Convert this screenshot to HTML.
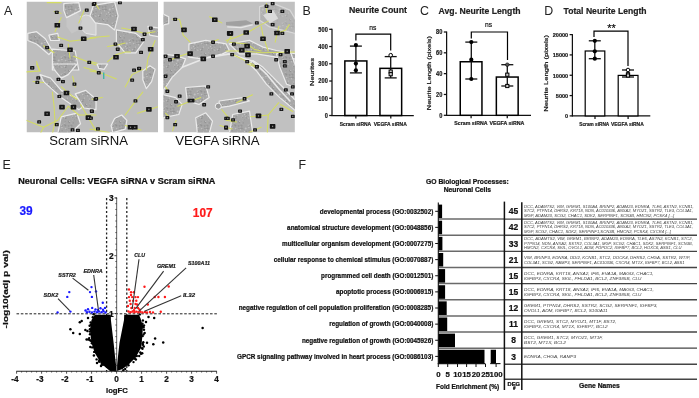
<!DOCTYPE html>
<html><head><meta charset="utf-8"><style>
html,body{margin:0;padding:0;background:#fff;}
body{width:699px;height:398px;overflow:hidden;}
svg{display:block;font-family:"Liberation Sans", sans-serif;will-change:transform;}
</style></head><body>
<svg width="699" height="398" viewBox="0 0 699 398">
<text x="4.00" y="15.00" font-size="12.4" text-anchor="start" fill="#222">A</text>
<text x="302.60" y="15.00" font-size="12.4" text-anchor="start" fill="#222">B</text>
<text x="420.00" y="14.80" font-size="12.4" text-anchor="start" fill="#222">C</text>
<text x="544.20" y="14.80" font-size="12.4" text-anchor="start" fill="#222">D</text>
<text x="2.60" y="168.80" font-size="12.4" text-anchor="start" fill="#222">E</text>
<text x="298.50" y="168.70" font-size="12.4" text-anchor="start" fill="#222">F</text>
<defs><pattern id="tex" width="17" height="17" patternUnits="userSpaceOnUse"><rect width="17" height="17" fill="#a7a7a7"/><circle cx="7.7" cy="9.5" r="1.0" fill="#c2c2c2"/><circle cx="7.7" cy="14.5" r="0.5" fill="#c2c2c2"/><circle cx="10.7" cy="13.5" r="0.5" fill="#b9b9b9"/><circle cx="2.4" cy="9.2" r="0.9" fill="#939393"/><circle cx="10.1" cy="6.7" r="0.7" fill="#9a9a9a"/><circle cx="10.6" cy="14.1" r="0.4" fill="#939393"/><circle cx="3.2" cy="4.1" r="0.4" fill="#c2c2c2"/><circle cx="5.5" cy="10.0" r="0.5" fill="#9a9a9a"/><circle cx="10.9" cy="8.5" r="0.8" fill="#c2c2c2"/><circle cx="11.1" cy="6.9" r="0.7" fill="#939393"/><circle cx="12.0" cy="5.4" r="0.5" fill="#b9b9b9"/><circle cx="0.5" cy="9.6" r="0.5" fill="#939393"/><circle cx="14.4" cy="6.6" r="1.0" fill="#939393"/><circle cx="3.6" cy="15.8" r="0.4" fill="#c2c2c2"/><circle cx="16.7" cy="6.8" r="0.4" fill="#9a9a9a"/><circle cx="13.2" cy="4.6" r="0.5" fill="#b9b9b9"/><circle cx="0.3" cy="7.0" r="1.0" fill="#9a9a9a"/><circle cx="4.2" cy="1.7" r="0.4" fill="#c2c2c2"/><circle cx="3.0" cy="9.5" r="0.7" fill="#9a9a9a"/><circle cx="16.7" cy="13.1" r="0.7" fill="#c2c2c2"/><circle cx="2.0" cy="7.2" r="0.5" fill="#b9b9b9"/><circle cx="14.7" cy="16.6" r="0.8" fill="#939393"/><circle cx="3.6" cy="6.7" r="0.9" fill="#939393"/><circle cx="0.7" cy="2.5" r="0.7" fill="#939393"/><circle cx="13.1" cy="5.6" r="0.6" fill="#939393"/><circle cx="1.3" cy="3.5" r="0.8" fill="#939393"/><circle cx="10.2" cy="6.3" r="0.7" fill="#c2c2c2"/><circle cx="14.2" cy="2.3" r="0.6" fill="#9a9a9a"/><circle cx="5.3" cy="3.9" r="0.8" fill="#9a9a9a"/><circle cx="2.7" cy="10.7" r="0.7" fill="#c2c2c2"/><circle cx="15.0" cy="10.3" r="0.7" fill="#939393"/><circle cx="1.9" cy="8.7" r="0.6" fill="#c2c2c2"/><circle cx="4.4" cy="14.0" r="0.8" fill="#b9b9b9"/><circle cx="8.8" cy="15.8" r="1.0" fill="#9a9a9a"/><circle cx="3.9" cy="9.5" r="0.9" fill="#939393"/><circle cx="4.8" cy="15.6" r="0.5" fill="#939393"/><circle cx="1.2" cy="7.0" r="0.5" fill="#939393"/><circle cx="3.0" cy="6.3" r="0.7" fill="#9a9a9a"/><circle cx="1.6" cy="2.4" r="0.7" fill="#b9b9b9"/><circle cx="11.2" cy="11.8" r="0.8" fill="#9a9a9a"/><circle cx="10.0" cy="15.7" r="0.7" fill="#b9b9b9"/><circle cx="11.9" cy="16.4" r="0.4" fill="#939393"/><circle cx="8.2" cy="12.4" r="0.6" fill="#939393"/><circle cx="1.3" cy="9.3" r="0.8" fill="#9a9a9a"/><circle cx="13.5" cy="15.6" r="0.6" fill="#c2c2c2"/><circle cx="15.3" cy="14.8" r="0.7" fill="#939393"/><circle cx="14.7" cy="9.7" r="0.8" fill="#c2c2c2"/><circle cx="6.4" cy="0.2" r="0.4" fill="#939393"/><circle cx="10.9" cy="16.9" r="0.9" fill="#b9b9b9"/><circle cx="6.6" cy="12.5" r="0.7" fill="#c2c2c2"/></pattern></defs>
<clipPath id="c1"><rect x="26.5" y="1.5" width="131.5" height="131"/></clipPath>
<clipPath id="c2"><rect x="163.4" y="1.5" width="131.5" height="131"/></clipPath>
<g clip-path="url(#c1)">
<rect x="26.5" y="1.5" width="131.5" height="131" fill="#bebebe"/>
<polygon points="78.8,17.6 85.8,14.9 96.0,17.6 96.0,35.2 85.8,33.4 78.8,26.4" fill="#cfcfcf" stroke="#e6e6e6" stroke-width="1.0" opacity="1" stroke-linejoin="round"/>
<polygon points="66.5,14.1 77.0,12.3 82.3,21.1 78.8,29.9 71.7,33.4 66.5,26.4" fill="#c6c6c6" stroke="none" stroke-width="0" opacity="1" stroke-linejoin="round"/>
<polygon points="63.8,3.5 78.8,2.6 80.5,10.6 73.5,14.1 66.5,17.6 63.8,10.6" fill="url(#tex)" stroke="#ebebeb" stroke-width="1.2" opacity="1" stroke-linejoin="round"/>
<polygon points="27.8,33.4 36.6,31.7 45.3,38.7 52.4,51.0 48.9,54.5 36.6,44.0 27.8,40.5" fill="url(#tex)" stroke="#ebebeb" stroke-width="1.2" opacity="1" stroke-linejoin="round"/>
<polygon points="52.4,49.2 75.2,51.0 78.8,70.0 52.4,70.0" fill="url(#tex)" stroke="#ebebeb" stroke-width="1.2" opacity="1" stroke-linejoin="round"/>
<polygon points="48.9,35.2 57.7,33.4 59.4,40.5 50.6,40.5" fill="url(#tex)" stroke="#ebebeb" stroke-width="1.2" opacity="1" stroke-linejoin="round"/>
<polygon points="93.5,5.3 114.6,1.8 118.1,15.8 114.6,29.9 107.6,24.6 95.3,22.9 90.0,15.8" fill="url(#tex)" stroke="#ebebeb" stroke-width="1.2" opacity="1" stroke-linejoin="round"/>
<polygon points="116.4,29.9 135.7,33.4 144.5,40.5 135.7,52.8 125.2,52.8 116.4,42.2" fill="url(#tex)" stroke="#ebebeb" stroke-width="1.2" opacity="1" stroke-linejoin="round"/>
<polygon points="148.0,26.4 160.0,28.1 160.0,36.9 149.8,35.2" fill="url(#tex)" stroke="#ebebeb" stroke-width="1.2" opacity="1" stroke-linejoin="round"/>
<polygon points="52.4,64.0 77.0,64.0 68.2,74.6 61.2,78.1 54.1,69.3" fill="url(#tex)" stroke="#ebebeb" stroke-width="1.2" opacity="1" stroke-linejoin="round"/>
<polygon points="40.1,74.6 50.6,78.1 61.2,90.4 78.8,99.2 85.8,104.5 78.8,109.7 61.2,97.4 43.6,81.6" fill="url(#tex)" stroke="#ebebeb" stroke-width="1.2" opacity="1" stroke-linejoin="round"/>
<polygon points="61.2,116.8 77.0,113.2 80.5,123.8 70.0,134.0 57.7,134.0" fill="url(#tex)" stroke="#ebebeb" stroke-width="1.2" opacity="1" stroke-linejoin="round"/>
<polygon points="75.2,93.9 85.8,90.4 96.0,99.2 96.0,109.7 84.0,108.0" fill="url(#tex)" stroke="#ebebeb" stroke-width="1.2" opacity="1" stroke-linejoin="round"/>
<polygon points="97.0,64.0 107.6,64.0 104.1,69.3 98.8,68.4" fill="url(#tex)" stroke="#ebebeb" stroke-width="1.2" opacity="1" stroke-linejoin="round"/>
<polygon points="142.8,71.0 149.8,65.8 155.1,69.3 151.6,81.6 146.3,88.6 142.8,79.8" fill="url(#tex)" stroke="#ebebeb" stroke-width="1.2" opacity="1" stroke-linejoin="round"/>
<polygon points="114.6,118.5 121.7,115.0 126.9,120.3 125.2,129.1 112.9,132.6 111.1,125.6" fill="url(#tex)" stroke="#ebebeb" stroke-width="1.2" opacity="1" stroke-linejoin="round"/>
<polyline points="47.1,2.6 61.2,2.6" fill="none" stroke="#d4dc62" stroke-width="1.05" stroke-linejoin="round" stroke-linecap="round"/>
<polyline points="54.1,11.4 61.2,13.2" fill="none" stroke="#d4dc62" stroke-width="1.05" stroke-linejoin="round" stroke-linecap="round"/>
<polyline points="61.2,17.6 55.0,31.7" fill="none" stroke="#d4dc62" stroke-width="1.05" stroke-linejoin="round" stroke-linecap="round"/>
<polyline points="57.7,36.9 70.0,41.3 84.0,39.6 96.0,37.8" fill="none" stroke="#d4dc62" stroke-width="1.05" stroke-linejoin="round" stroke-linecap="round"/>
<polyline points="68.2,44.0 70.0,58.0" fill="none" stroke="#d4dc62" stroke-width="1.05" stroke-linejoin="round" stroke-linecap="round"/>
<polyline points="78.8,22.9 84.0,10.6" fill="none" stroke="#d4dc62" stroke-width="1.05" stroke-linejoin="round" stroke-linecap="round"/>
<polyline points="43.6,45.7 54.1,52.8" fill="none" stroke="#d4dc62" stroke-width="1.05" stroke-linejoin="round" stroke-linecap="round"/>
<polyline points="36.6,61.6 39.2,70.0" fill="none" stroke="#d4dc62" stroke-width="1.05" stroke-linejoin="round" stroke-linecap="round"/>
<polyline points="73.5,56.3 96.0,65.1" fill="none" stroke="#d4dc62" stroke-width="1.05" stroke-linejoin="round" stroke-linecap="round"/>
<polyline points="90.0,37.8 109.3,36.1" fill="none" stroke="#d4dc62" stroke-width="1.05" stroke-linejoin="round" stroke-linecap="round"/>
<polyline points="121.7,28.1 132.2,29.9 144.5,33.4 155.1,31.7" fill="none" stroke="#d4dc62" stroke-width="1.05" stroke-linejoin="round" stroke-linecap="round"/>
<polyline points="107.6,46.6 118.1,44.8 125.2,43.1" fill="none" stroke="#d4dc62" stroke-width="1.05" stroke-linejoin="round" stroke-linecap="round"/>
<polyline points="116.4,54.5 125.2,51.9 130.5,51.9" fill="none" stroke="#d4dc62" stroke-width="1.05" stroke-linejoin="round" stroke-linecap="round"/>
<polyline points="107.6,61.6 116.4,54.5" fill="none" stroke="#d4dc62" stroke-width="1.05" stroke-linejoin="round" stroke-linecap="round"/>
<polyline points="155.1,40.5 148.0,58.0 146.3,70.0" fill="none" stroke="#d4dc62" stroke-width="1.05" stroke-linejoin="round" stroke-linecap="round"/>
<polyline points="90.0,61.6 97.0,63.3" fill="none" stroke="#d4dc62" stroke-width="1.05" stroke-linejoin="round" stroke-linecap="round"/>
<polyline points="95.3,3.5 98.8,8.8" fill="none" stroke="#d4dc62" stroke-width="1.05" stroke-linejoin="round" stroke-linecap="round"/>
<polyline points="26.0,71.9 40.1,71.0" fill="none" stroke="#d4dc62" stroke-width="1.05" stroke-linejoin="round" stroke-linecap="round"/>
<polyline points="36.6,64.0 40.1,71.0" fill="none" stroke="#d4dc62" stroke-width="1.05" stroke-linejoin="round" stroke-linecap="round"/>
<polyline points="33.0,81.6 43.6,82.5" fill="none" stroke="#d4dc62" stroke-width="1.05" stroke-linejoin="round" stroke-linecap="round"/>
<polyline points="52.4,92.1 54.1,106.2 55.0,122.0 52.4,134.0" fill="none" stroke="#d4dc62" stroke-width="1.05" stroke-linejoin="round" stroke-linecap="round"/>
<polyline points="26.0,120.3 43.6,127.3 57.7,120.3 68.2,106.2" fill="none" stroke="#d4dc62" stroke-width="1.05" stroke-linejoin="round" stroke-linecap="round"/>
<polyline points="43.6,127.3 40.1,134.0" fill="none" stroke="#d4dc62" stroke-width="1.05" stroke-linejoin="round" stroke-linecap="round"/>
<polyline points="61.2,86.9 71.7,95.7 77.0,99.2" fill="none" stroke="#d4dc62" stroke-width="1.05" stroke-linejoin="round" stroke-linecap="round"/>
<polyline points="68.2,106.2 78.8,115.0 96.0,115.0" fill="none" stroke="#d4dc62" stroke-width="1.05" stroke-linejoin="round" stroke-linecap="round"/>
<polyline points="80.5,104.5 96.0,130.8" fill="none" stroke="#d4dc62" stroke-width="1.05" stroke-linejoin="round" stroke-linecap="round"/>
<polyline points="72.6,76.3 75.2,86.9" fill="none" stroke="#d4dc62" stroke-width="1.05" stroke-linejoin="round" stroke-linecap="round"/>
<polyline points="84.0,67.5 96.0,71.0" fill="none" stroke="#d4dc62" stroke-width="1.05" stroke-linejoin="round" stroke-linecap="round"/>
<polyline points="90.0,71.0 100.6,72.8 116.4,78.9" fill="none" stroke="#d4dc62" stroke-width="1.05" stroke-linejoin="round" stroke-linecap="round"/>
<polyline points="125.2,86.9 132.2,74.6 142.8,69.3" fill="none" stroke="#d4dc62" stroke-width="1.05" stroke-linejoin="round" stroke-linecap="round"/>
<polyline points="142.8,92.1 135.7,100.9 125.2,115.0" fill="none" stroke="#d4dc62" stroke-width="1.05" stroke-linejoin="round" stroke-linecap="round"/>
<polyline points="137.5,113.2 160.0,106.2" fill="none" stroke="#d4dc62" stroke-width="1.05" stroke-linejoin="round" stroke-linecap="round"/>
<polyline points="91.8,99.2 102.3,97.4" fill="none" stroke="#d4dc62" stroke-width="1.05" stroke-linejoin="round" stroke-linecap="round"/>
<polyline points="125.2,125.6 141.0,130.0" fill="none" stroke="#d4dc62" stroke-width="1.05" stroke-linejoin="round" stroke-linecap="round"/>
<polyline points="90.0,129.1 109.3,132.6" fill="none" stroke="#d4dc62" stroke-width="1.05" stroke-linejoin="round" stroke-linecap="round"/>
<rect x="54.8" y="10.7" width="3.9" height="3.3" rx="0.6" fill="#151515"/>
<rect x="56.2" y="11.6" width="1.2" height="1.4" fill="#888"/>
<rect x="54.5" y="22.9" width="5.6" height="4.6" rx="0.6" fill="#151515"/>
<rect x="56.7" y="24.5" width="1.2" height="1.4" fill="#888"/>
<rect x="78.5" y="26.5" width="3.9" height="3.3" rx="0.6" fill="#151515"/>
<rect x="79.9" y="27.4" width="1.2" height="1.4" fill="#888"/>
<rect x="80.9" y="36.4" width="5.6" height="4.6" rx="0.6" fill="#151515"/>
<rect x="83.1" y="38.0" width="1.2" height="1.4" fill="#888"/>
<rect x="59.2" y="43.8" width="3.9" height="3.3" rx="0.6" fill="#151515"/>
<rect x="60.6" y="44.7" width="1.2" height="1.4" fill="#888"/>
<rect x="67.2" y="47.5" width="5.6" height="4.6" rx="0.6" fill="#151515"/>
<rect x="69.4" y="49.1" width="1.2" height="1.4" fill="#888"/>
<rect x="45.1" y="45.9" width="3.9" height="3.3" rx="0.6" fill="#151515"/>
<rect x="46.5" y="46.8" width="1.2" height="1.4" fill="#888"/>
<rect x="84.8" y="8.5" width="3.9" height="3.3" rx="0.6" fill="#151515"/>
<rect x="86.1" y="9.5" width="1.2" height="1.4" fill="#888"/>
<rect x="91.8" y="2.8" width="3.9" height="3.3" rx="0.6" fill="#151515"/>
<rect x="93.1" y="3.7" width="1.2" height="1.4" fill="#888"/>
<rect x="87.3" y="60.8" width="3.9" height="3.3" rx="0.6" fill="#151515"/>
<rect x="88.7" y="61.7" width="1.2" height="1.4" fill="#888"/>
<rect x="30.3" y="66.0" width="3.9" height="3.3" rx="0.6" fill="#151515"/>
<rect x="31.6" y="67.0" width="1.2" height="1.4" fill="#888"/>
<rect x="131.2" y="26.7" width="5.6" height="4.6" rx="0.6" fill="#151515"/>
<rect x="133.4" y="28.3" width="1.2" height="1.4" fill="#888"/>
<rect x="148.8" y="26.5" width="3.9" height="3.3" rx="0.6" fill="#151515"/>
<rect x="150.1" y="27.4" width="1.2" height="1.4" fill="#888"/>
<rect x="142.6" y="32.6" width="3.9" height="3.3" rx="0.6" fill="#151515"/>
<rect x="143.9" y="33.6" width="1.2" height="1.4" fill="#888"/>
<rect x="140.9" y="38.0" width="3.9" height="3.3" rx="0.6" fill="#151515"/>
<rect x="142.2" y="38.9" width="1.2" height="1.4" fill="#888"/>
<rect x="113.5" y="42.4" width="3.9" height="3.3" rx="0.6" fill="#151515"/>
<rect x="114.9" y="43.3" width="1.2" height="1.4" fill="#888"/>
<rect x="115.8" y="47.6" width="3.9" height="3.3" rx="0.6" fill="#151515"/>
<rect x="117.2" y="48.5" width="1.2" height="1.4" fill="#888"/>
<rect x="113.2" y="54.9" width="5.6" height="4.6" rx="0.6" fill="#151515"/>
<rect x="115.4" y="56.5" width="1.2" height="1.4" fill="#888"/>
<rect x="139.1" y="50.8" width="3.9" height="3.3" rx="0.6" fill="#151515"/>
<rect x="140.4" y="51.7" width="1.2" height="1.4" fill="#888"/>
<rect x="147.9" y="46.9" width="5.6" height="4.6" rx="0.6" fill="#151515"/>
<rect x="150.1" y="48.5" width="1.2" height="1.4" fill="#888"/>
<rect x="92.5" y="1.9" width="3.9" height="3.3" rx="0.6" fill="#151515"/>
<rect x="93.8" y="2.8" width="1.2" height="1.4" fill="#888"/>
<rect x="118.0" y="1.0" width="3.9" height="3.3" rx="0.6" fill="#151515"/>
<rect x="119.4" y="1.9" width="1.2" height="1.4" fill="#888"/>
<rect x="137.2" y="66.9" width="3.9" height="3.3" rx="0.6" fill="#151515"/>
<rect x="138.6" y="67.9" width="1.2" height="1.4" fill="#888"/>
<rect x="30.3" y="66.2" width="3.9" height="3.3" rx="0.6" fill="#151515"/>
<rect x="31.6" y="67.2" width="1.2" height="1.4" fill="#888"/>
<rect x="36.3" y="76.3" width="3.9" height="3.3" rx="0.6" fill="#151515"/>
<rect x="37.7" y="77.3" width="1.2" height="1.4" fill="#888"/>
<rect x="35.4" y="80.8" width="3.9" height="3.3" rx="0.6" fill="#151515"/>
<rect x="36.8" y="81.8" width="1.2" height="1.4" fill="#888"/>
<rect x="56.5" y="77.8" width="3.9" height="3.3" rx="0.6" fill="#151515"/>
<rect x="57.9" y="78.8" width="1.2" height="1.4" fill="#888"/>
<rect x="61.0" y="79.9" width="3.9" height="3.3" rx="0.6" fill="#151515"/>
<rect x="62.4" y="80.9" width="1.2" height="1.4" fill="#888"/>
<rect x="72.5" y="82.5" width="3.9" height="3.3" rx="0.6" fill="#151515"/>
<rect x="73.8" y="83.5" width="1.2" height="1.4" fill="#888"/>
<rect x="63.7" y="90.7" width="5.6" height="4.6" rx="0.6" fill="#151515"/>
<rect x="65.9" y="92.3" width="1.2" height="1.4" fill="#888"/>
<rect x="57.4" y="94.8" width="3.9" height="3.3" rx="0.6" fill="#151515"/>
<rect x="58.8" y="95.8" width="1.2" height="1.4" fill="#888"/>
<rect x="59.2" y="104.8" width="5.6" height="4.6" rx="0.6" fill="#151515"/>
<rect x="61.4" y="106.4" width="1.2" height="1.4" fill="#888"/>
<rect x="70.7" y="104.8" width="5.6" height="4.6" rx="0.6" fill="#151515"/>
<rect x="72.9" y="106.4" width="1.2" height="1.4" fill="#888"/>
<rect x="44.3" y="111.5" width="5.6" height="4.6" rx="0.6" fill="#151515"/>
<rect x="46.5" y="113.1" width="1.2" height="1.4" fill="#888"/>
<rect x="37.2" y="120.3" width="3.9" height="3.3" rx="0.6" fill="#151515"/>
<rect x="38.6" y="121.3" width="1.2" height="1.4" fill="#888"/>
<rect x="54.8" y="123.0" width="3.9" height="3.3" rx="0.6" fill="#151515"/>
<rect x="56.2" y="124.0" width="1.2" height="1.4" fill="#888"/>
<rect x="85.6" y="115.3" width="5.6" height="4.6" rx="0.6" fill="#151515"/>
<rect x="87.8" y="116.9" width="1.2" height="1.4" fill="#888"/>
<rect x="90.0" y="109.8" width="3.9" height="3.3" rx="0.6" fill="#151515"/>
<rect x="91.4" y="110.8" width="1.2" height="1.4" fill="#888"/>
<rect x="93.5" y="97.5" width="3.9" height="3.3" rx="0.6" fill="#151515"/>
<rect x="94.9" y="98.5" width="1.2" height="1.4" fill="#888"/>
<rect x="70.6" y="128.3" width="3.9" height="3.3" rx="0.6" fill="#151515"/>
<rect x="72.0" y="129.3" width="1.2" height="1.4" fill="#888"/>
<rect x="76.0" y="128.8" width="3.9" height="3.3" rx="0.6" fill="#151515"/>
<rect x="77.3" y="129.8" width="1.2" height="1.4" fill="#888"/>
<rect x="96.8" y="71.1" width="3.9" height="3.3" rx="0.6" fill="#151515"/>
<rect x="98.2" y="72.1" width="1.2" height="1.4" fill="#888"/>
<rect x="132.1" y="68.5" width="3.9" height="3.3" rx="0.6" fill="#151515"/>
<rect x="133.4" y="69.5" width="1.2" height="1.4" fill="#888"/>
<rect x="137.2" y="66.8" width="3.9" height="3.3" rx="0.6" fill="#151515"/>
<rect x="138.6" y="67.7" width="1.2" height="1.4" fill="#888"/>
<rect x="130.2" y="78.5" width="3.9" height="3.3" rx="0.6" fill="#151515"/>
<rect x="131.6" y="79.5" width="1.2" height="1.4" fill="#888"/>
<rect x="94.2" y="97.1" width="3.9" height="3.3" rx="0.6" fill="#151515"/>
<rect x="95.6" y="98.1" width="1.2" height="1.4" fill="#888"/>
<rect x="133.5" y="99.3" width="3.9" height="3.3" rx="0.6" fill="#151515"/>
<rect x="134.8" y="100.3" width="1.2" height="1.4" fill="#888"/>
<rect x="146.1" y="107.1" width="5.6" height="4.6" rx="0.6" fill="#151515"/>
<rect x="148.3" y="108.7" width="1.2" height="1.4" fill="#888"/>
<rect x="89.8" y="109.4" width="3.9" height="3.3" rx="0.6" fill="#151515"/>
<rect x="91.2" y="110.4" width="1.2" height="1.4" fill="#888"/>
<rect x="96.0" y="127.3" width="3.9" height="3.3" rx="0.6" fill="#151515"/>
<rect x="97.3" y="128.3" width="1.2" height="1.4" fill="#888"/>
<rect x="127.7" y="125.0" width="5.6" height="4.6" rx="0.6" fill="#151515"/>
<rect x="129.9" y="126.6" width="1.2" height="1.4" fill="#888"/>
<rect x="132.0" y="125.0" width="5.6" height="4.6" rx="0.6" fill="#151515"/>
<rect x="134.2" y="126.6" width="1.2" height="1.4" fill="#888"/>
<rect x="89.0" y="116.5" width="3.9" height="3.3" rx="0.6" fill="#151515"/>
<rect x="90.3" y="117.5" width="1.2" height="1.4" fill="#888"/>
<rect x="103" y="72.5" width="1.4" height="6.5" fill="#3fb5a5"/>
</g>
<g clip-path="url(#c2)">
<rect x="163.4" y="1.5" width="131.5" height="131" fill="#c1c1c1"/>
<polygon points="188.9,43.8 205.8,40.4 226.0,43.8 229.3,50.5 222.6,53.9 202.4,58.9 188.9,57.2" fill="url(#tex)" stroke="#ebebeb" stroke-width="1.2" opacity="1" stroke-linejoin="round"/>
<polygon points="162.0,53.9 175.5,55.6 185.6,58.9 182.2,67.3 172.1,77.4 165.4,87.5 162.0,90.9" fill="url(#tex)" stroke="#ebebeb" stroke-width="1.2" opacity="1" stroke-linejoin="round"/>
<polygon points="162.0,94.3 175.5,97.6 182.2,104.4 178.8,114.5 162.0,117.8" fill="url(#tex)" stroke="#ebebeb" stroke-width="1.2" opacity="1" stroke-linejoin="round"/>
<polygon points="185.6,87.5 205.8,85.9 209.1,97.6 199.0,104.4 187.3,101.0" fill="url(#tex)" stroke="#ebebeb" stroke-width="1.2" opacity="1" stroke-linejoin="round"/>
<polygon points="219.2,101.0 242.8,97.6 249.5,101.0 229.3,106.1 219.2,107.7" fill="url(#tex)" stroke="#ebebeb" stroke-width="1.2" opacity="1" stroke-linejoin="round"/>
<polygon points="195.7,117.8 205.8,112.8 212.5,121.2 209.1,134.0 197.4,134.0" fill="url(#tex)" stroke="#ebebeb" stroke-width="1.2" opacity="1" stroke-linejoin="round"/>
<polygon points="232.7,114.5 249.5,111.1 252.9,134.0 229.3,134.0" fill="url(#tex)" stroke="#ebebeb" stroke-width="1.2" opacity="1" stroke-linejoin="round"/>
<polygon points="229.3,43.8 249.5,40.4 263.0,47.1 276.5,50.5 296.0,53.9 296.0,58.9 276.5,57.2 256.3,53.9 239.4,53.9" fill="url(#tex)" stroke="#ebebeb" stroke-width="1.2" opacity="1" stroke-linejoin="round"/>
<polygon points="252.9,60.6 263.0,67.3 273.1,77.4 283.2,87.5 296.0,101.0 296.0,111.1 279.8,97.6 266.4,84.2 256.3,70.7 249.5,64.0" fill="url(#tex)" stroke="#ebebeb" stroke-width="1.2" opacity="1" stroke-linejoin="round"/>
<polygon points="276.5,53.9 289.9,50.5 296.0,67.3 296.0,87.5 286.6,84.2 279.8,67.3" fill="url(#tex)" stroke="#ebebeb" stroke-width="1.2" opacity="1" stroke-linejoin="round"/>
<polygon points="162.0,13.5 168.7,16.8 168.7,23.6 162.0,25.3" fill="url(#tex)" stroke="#ebebeb" stroke-width="1.2" opacity="1" stroke-linejoin="round"/>
<polygon points="226.0,21.9 246.2,20.2 252.9,23.6 239.4,26.3 226.0,25.3" fill="#a0a0a0" stroke="none" stroke-width="0" opacity="1" stroke-linejoin="round"/>
<polyline points="227.7,26.9 241.1,27.6 252.2,24.9" fill="none" stroke="#e6e6e6" stroke-width="1.4" stroke-linejoin="round" stroke-linecap="round"/>
<polygon points="259.6,6.7 273.1,3.4 289.9,10.1 296.0,20.2 296.0,33.7 283.2,30.3 269.7,26.9 259.6,20.2" fill="url(#tex)" stroke="#ebebeb" stroke-width="1.2" opacity="0.55" stroke-linejoin="round"/>
<polygon points="263.0,15.2 273.1,10.1 278.2,18.5 269.7,23.6" fill="#dadada" stroke="none" stroke-width="0" opacity="1" stroke-linejoin="round"/>
<polyline points="182.2,67.3 205.8,57.9 229.3,53.9 252.9,61.3 267.1,74.7 278.2,88.2 289.9,101.0" fill="none" stroke="#e8e8e8" stroke-width="1.6" stroke-linejoin="round" stroke-linecap="round"/>
<polyline points="172.6,19.3 179.6,19.3 182.2,29.9 183.1,35.2 190.1,42.2" fill="none" stroke="#d4dc62" stroke-width="1.05" stroke-linejoin="round" stroke-linecap="round"/>
<polyline points="209.5,16.7 214.8,19.3 221.8,22.9" fill="none" stroke="#d4dc62" stroke-width="1.05" stroke-linejoin="round" stroke-linecap="round"/>
<polyline points="190.1,52.8 179.6,56.3 170.8,59.8" fill="none" stroke="#d4dc62" stroke-width="1.05" stroke-linejoin="round" stroke-linecap="round"/>
<polyline points="211.2,42.2 218.3,39.6" fill="none" stroke="#d4dc62" stroke-width="1.05" stroke-linejoin="round" stroke-linecap="round"/>
<polyline points="227.1,42.2 232.0,35.2" fill="none" stroke="#d4dc62" stroke-width="1.05" stroke-linejoin="round" stroke-linecap="round"/>
<polyline points="226.0,40.5 236.6,36.9 248.9,31.7 261.2,24.6 268.2,21.1" fill="none" stroke="#d4dc62" stroke-width="1.05" stroke-linejoin="round" stroke-linecap="round"/>
<polyline points="261.2,26.4 262.9,35.2 268.2,51.0" fill="none" stroke="#d4dc62" stroke-width="1.05" stroke-linejoin="round" stroke-linecap="round"/>
<polyline points="278.8,26.4 275.2,42.2" fill="none" stroke="#d4dc62" stroke-width="1.05" stroke-linejoin="round" stroke-linecap="round"/>
<polyline points="277.0,33.4 285.8,29.9 289.3,24.6" fill="none" stroke="#d4dc62" stroke-width="1.05" stroke-linejoin="round" stroke-linecap="round"/>
<polyline points="226.0,51.0 243.6,51.0 261.2,52.8 296.0,51.9" fill="none" stroke="#d4dc62" stroke-width="1.05" stroke-linejoin="round" stroke-linecap="round"/>
<polyline points="233.0,54.5 247.1,61.6 257.7,66.8" fill="none" stroke="#d4dc62" stroke-width="1.05" stroke-linejoin="round" stroke-linecap="round"/>
<polyline points="229.5,42.2 247.1,44.0 254.1,49.2 261.2,51.0" fill="none" stroke="#d4dc62" stroke-width="1.05" stroke-linejoin="round" stroke-linecap="round"/>
<polyline points="266.5,3.5 266.5,12.3" fill="none" stroke="#d4dc62" stroke-width="1.05" stroke-linejoin="round" stroke-linecap="round"/>
<polyline points="177.8,106.2 186.6,102.7 200.7,97.4" fill="none" stroke="#d4dc62" stroke-width="1.05" stroke-linejoin="round" stroke-linecap="round"/>
<polyline points="165.5,86.9 169.0,92.1" fill="none" stroke="#d4dc62" stroke-width="1.05" stroke-linejoin="round" stroke-linecap="round"/>
<polyline points="172.6,130.8 176.1,120.3" fill="none" stroke="#d4dc62" stroke-width="1.05" stroke-linejoin="round" stroke-linecap="round"/>
<polyline points="221.8,109.7 232.0,122.0" fill="none" stroke="#d4dc62" stroke-width="1.05" stroke-linejoin="round" stroke-linecap="round"/>
<polyline points="220.0,125.6 232.0,129.1" fill="none" stroke="#d4dc62" stroke-width="1.05" stroke-linejoin="round" stroke-linecap="round"/>
<polyline points="165.5,113.2 169.0,116.8" fill="none" stroke="#d4dc62" stroke-width="1.05" stroke-linejoin="round" stroke-linecap="round"/>
<polyline points="236.6,102.7 252.4,94.8" fill="none" stroke="#d4dc62" stroke-width="1.05" stroke-linejoin="round" stroke-linecap="round"/>
<polyline points="250.6,116.8 268.2,115.0 278.8,102.7" fill="none" stroke="#d4dc62" stroke-width="1.05" stroke-linejoin="round" stroke-linecap="round"/>
<polyline points="268.2,115.0 267.3,132.6" fill="none" stroke="#d4dc62" stroke-width="1.05" stroke-linejoin="round" stroke-linecap="round"/>
<polyline points="247.1,64.0 257.7,67.5" fill="none" stroke="#d4dc62" stroke-width="1.05" stroke-linejoin="round" stroke-linecap="round"/>
<polyline points="248.9,132.6 261.2,127.3" fill="none" stroke="#d4dc62" stroke-width="1.05" stroke-linejoin="round" stroke-linecap="round"/>
<polyline points="226.0,120.3 236.6,122.0" fill="none" stroke="#d4dc62" stroke-width="1.05" stroke-linejoin="round" stroke-linecap="round"/>
<polyline points="280.5,104.5 292.8,111.5" fill="none" stroke="#d4dc62" stroke-width="1.05" stroke-linejoin="round" stroke-linecap="round"/>
<rect x="173.2" y="17.7" width="3.9" height="3.3" rx="0.6" fill="#151515"/>
<rect x="174.6" y="18.6" width="1.2" height="1.4" fill="#888"/>
<rect x="181.2" y="27.6" width="5.6" height="4.6" rx="0.6" fill="#151515"/>
<rect x="183.4" y="29.2" width="1.2" height="1.4" fill="#888"/>
<rect x="212.0" y="17.4" width="5.6" height="4.6" rx="0.6" fill="#151515"/>
<rect x="214.2" y="19.0" width="1.2" height="1.4" fill="#888"/>
<rect x="226.9" y="31.1" width="5.6" height="4.6" rx="0.6" fill="#151515"/>
<rect x="229.1" y="32.7" width="1.2" height="1.4" fill="#888"/>
<rect x="211.1" y="40.6" width="3.9" height="3.3" rx="0.6" fill="#151515"/>
<rect x="212.4" y="41.5" width="1.2" height="1.4" fill="#888"/>
<rect x="187.3" y="51.3" width="5.6" height="4.6" rx="0.6" fill="#151515"/>
<rect x="189.5" y="52.9" width="1.2" height="1.4" fill="#888"/>
<rect x="174.2" y="54.0" width="5.6" height="4.6" rx="0.6" fill="#151515"/>
<rect x="176.4" y="55.6" width="1.2" height="1.4" fill="#888"/>
<rect x="163.6" y="54.6" width="3.9" height="3.3" rx="0.6" fill="#151515"/>
<rect x="164.9" y="55.6" width="1.2" height="1.4" fill="#888"/>
<rect x="168.0" y="58.1" width="3.9" height="3.3" rx="0.6" fill="#151515"/>
<rect x="169.3" y="59.1" width="1.2" height="1.4" fill="#888"/>
<rect x="200.5" y="56.6" width="5.6" height="4.6" rx="0.6" fill="#151515"/>
<rect x="202.7" y="58.2" width="1.2" height="1.4" fill="#888"/>
<rect x="211.1" y="54.6" width="3.9" height="3.3" rx="0.6" fill="#151515"/>
<rect x="212.4" y="55.6" width="1.2" height="1.4" fill="#888"/>
<rect x="227.6" y="31.1" width="5.6" height="4.6" rx="0.6" fill="#151515"/>
<rect x="229.8" y="32.7" width="1.2" height="1.4" fill="#888"/>
<rect x="243.4" y="30.2" width="5.6" height="4.6" rx="0.6" fill="#151515"/>
<rect x="245.6" y="31.8" width="1.2" height="1.4" fill="#888"/>
<rect x="260.2" y="36.4" width="5.6" height="4.6" rx="0.6" fill="#151515"/>
<rect x="262.4" y="38.0" width="1.2" height="1.4" fill="#888"/>
<rect x="274.2" y="30.7" width="5.6" height="4.6" rx="0.6" fill="#151515"/>
<rect x="276.4" y="32.3" width="1.2" height="1.4" fill="#888"/>
<rect x="280.4" y="31.8" width="3.9" height="3.3" rx="0.6" fill="#151515"/>
<rect x="281.7" y="32.7" width="1.2" height="1.4" fill="#888"/>
<rect x="254.9" y="21.2" width="3.9" height="3.3" rx="0.6" fill="#151515"/>
<rect x="256.2" y="22.2" width="1.2" height="1.4" fill="#888"/>
<rect x="270.7" y="23.0" width="3.9" height="3.3" rx="0.6" fill="#151515"/>
<rect x="272.0" y="23.9" width="1.2" height="1.4" fill="#888"/>
<rect x="264.6" y="4.6" width="3.9" height="3.3" rx="0.6" fill="#151515"/>
<rect x="265.9" y="5.5" width="1.2" height="1.4" fill="#888"/>
<rect x="270.7" y="1.9" width="3.9" height="3.3" rx="0.6" fill="#151515"/>
<rect x="272.0" y="2.8" width="1.2" height="1.4" fill="#888"/>
<rect x="268.1" y="9.8" width="3.9" height="3.3" rx="0.6" fill="#151515"/>
<rect x="269.4" y="10.7" width="1.2" height="1.4" fill="#888"/>
<rect x="280.4" y="9.8" width="3.9" height="3.3" rx="0.6" fill="#151515"/>
<rect x="281.7" y="10.7" width="1.2" height="1.4" fill="#888"/>
<rect x="232.0" y="42.4" width="3.9" height="3.3" rx="0.6" fill="#151515"/>
<rect x="233.3" y="43.3" width="1.2" height="1.4" fill="#888"/>
<rect x="244.3" y="43.8" width="5.6" height="4.6" rx="0.6" fill="#151515"/>
<rect x="246.5" y="45.4" width="1.2" height="1.4" fill="#888"/>
<rect x="239.0" y="47.8" width="5.6" height="4.6" rx="0.6" fill="#151515"/>
<rect x="241.2" y="49.4" width="1.2" height="1.4" fill="#888"/>
<rect x="245.2" y="52.6" width="5.6" height="4.6" rx="0.6" fill="#151515"/>
<rect x="247.4" y="54.2" width="1.2" height="1.4" fill="#888"/>
<rect x="230.2" y="52.9" width="3.9" height="3.3" rx="0.6" fill="#151515"/>
<rect x="231.6" y="53.8" width="1.2" height="1.4" fill="#888"/>
<rect x="245.2" y="60.0" width="3.9" height="3.3" rx="0.6" fill="#151515"/>
<rect x="246.5" y="60.9" width="1.2" height="1.4" fill="#888"/>
<rect x="278.6" y="52.9" width="3.9" height="3.3" rx="0.6" fill="#151515"/>
<rect x="279.9" y="53.8" width="1.2" height="1.4" fill="#888"/>
<rect x="284.4" y="49.1" width="5.6" height="4.6" rx="0.6" fill="#151515"/>
<rect x="286.6" y="50.7" width="1.2" height="1.4" fill="#888"/>
<rect x="274.2" y="58.1" width="3.9" height="3.3" rx="0.6" fill="#151515"/>
<rect x="275.5" y="59.1" width="1.2" height="1.4" fill="#888"/>
<rect x="282.9" y="60.0" width="3.9" height="3.3" rx="0.6" fill="#151515"/>
<rect x="284.3" y="60.9" width="1.2" height="1.4" fill="#888"/>
<rect x="282.9" y="64.3" width="3.9" height="3.3" rx="0.6" fill="#151515"/>
<rect x="284.3" y="65.3" width="1.2" height="1.4" fill="#888"/>
<rect x="254.9" y="65.1" width="3.9" height="3.3" rx="0.6" fill="#151515"/>
<rect x="256.2" y="66.1" width="1.2" height="1.4" fill="#888"/>
<rect x="163.6" y="74.6" width="3.9" height="3.3" rx="0.6" fill="#151515"/>
<rect x="164.9" y="75.6" width="1.2" height="1.4" fill="#888"/>
<rect x="165.4" y="89.6" width="3.9" height="3.3" rx="0.6" fill="#151515"/>
<rect x="166.7" y="90.6" width="1.2" height="1.4" fill="#888"/>
<rect x="177.7" y="94.5" width="3.9" height="3.3" rx="0.6" fill="#151515"/>
<rect x="179.0" y="95.5" width="1.2" height="1.4" fill="#888"/>
<rect x="174.1" y="100.1" width="3.9" height="3.3" rx="0.6" fill="#151515"/>
<rect x="175.4" y="101.1" width="1.2" height="1.4" fill="#888"/>
<rect x="202.2" y="103.1" width="3.9" height="3.3" rx="0.6" fill="#151515"/>
<rect x="203.6" y="104.1" width="1.2" height="1.4" fill="#888"/>
<rect x="206.2" y="85.2" width="3.9" height="3.3" rx="0.6" fill="#151515"/>
<rect x="207.5" y="86.2" width="1.2" height="1.4" fill="#888"/>
<rect x="165.4" y="115.9" width="3.9" height="3.3" rx="0.6" fill="#151515"/>
<rect x="166.7" y="116.9" width="1.2" height="1.4" fill="#888"/>
<rect x="173.2" y="123.0" width="3.9" height="3.3" rx="0.6" fill="#151515"/>
<rect x="174.6" y="124.0" width="1.2" height="1.4" fill="#888"/>
<rect x="224.2" y="116.8" width="3.9" height="3.3" rx="0.6" fill="#151515"/>
<rect x="225.6" y="117.8" width="1.2" height="1.4" fill="#888"/>
<rect x="224.2" y="126.5" width="3.9" height="3.3" rx="0.6" fill="#151515"/>
<rect x="225.6" y="127.5" width="1.2" height="1.4" fill="#888"/>
<rect x="242.6" y="97.1" width="3.9" height="3.3" rx="0.6" fill="#151515"/>
<rect x="243.9" y="98.1" width="1.2" height="1.4" fill="#888"/>
<rect x="269.4" y="92.2" width="3.9" height="3.3" rx="0.6" fill="#151515"/>
<rect x="270.8" y="93.2" width="1.2" height="1.4" fill="#888"/>
<rect x="238.1" y="109.4" width="3.9" height="3.3" rx="0.6" fill="#151515"/>
<rect x="239.4" y="110.4" width="1.2" height="1.4" fill="#888"/>
<rect x="255.7" y="113.6" width="5.6" height="4.6" rx="0.6" fill="#151515"/>
<rect x="257.9" y="115.2" width="1.2" height="1.4" fill="#888"/>
<rect x="269.8" y="124.1" width="5.6" height="4.6" rx="0.6" fill="#151515"/>
<rect x="272.0" y="125.7" width="1.2" height="1.4" fill="#888"/>
<rect x="279.4" y="107.8" width="3.9" height="3.3" rx="0.6" fill="#151515"/>
<rect x="280.8" y="108.7" width="1.2" height="1.4" fill="#888"/>
<rect x="283.9" y="88.3" width="3.9" height="3.3" rx="0.6" fill="#151515"/>
<rect x="285.2" y="89.3" width="1.2" height="1.4" fill="#888"/>
<rect x="290.9" y="85.2" width="3.9" height="3.3" rx="0.6" fill="#151515"/>
<rect x="292.2" y="86.2" width="1.2" height="1.4" fill="#888"/>
<rect x="290.1" y="92.3" width="3.9" height="3.3" rx="0.6" fill="#151515"/>
<rect x="291.4" y="93.3" width="1.2" height="1.4" fill="#888"/>
<rect x="290.9" y="114.8" width="3.9" height="3.3" rx="0.6" fill="#151515"/>
<rect x="292.2" y="115.7" width="1.2" height="1.4" fill="#888"/>
<rect x="231.1" y="118.2" width="3.9" height="3.3" rx="0.6" fill="#151515"/>
<rect x="232.4" y="119.2" width="1.2" height="1.4" fill="#888"/>
<rect x="225.9" y="116.8" width="3.9" height="3.3" rx="0.6" fill="#151515"/>
<rect x="227.2" y="117.8" width="1.2" height="1.4" fill="#888"/>
<rect x="253.1" y="128.3" width="3.9" height="3.3" rx="0.6" fill="#151515"/>
<rect x="254.4" y="129.3" width="1.2" height="1.4" fill="#888"/>
<rect x="224.1" y="125.6" width="3.9" height="3.3" rx="0.6" fill="#151515"/>
<rect x="225.4" y="126.6" width="1.2" height="1.4" fill="#888"/>
<rect x="254.9" y="64.9" width="3.9" height="3.3" rx="0.6" fill="#151515"/>
<rect x="256.2" y="65.9" width="1.2" height="1.4" fill="#888"/>
<rect x="187.5" y="98.8" width="7" height="3.6" rx="0.6" fill="#151515"/>
<rect x="190.4" y="99.9" width="1.2" height="1.4" fill="#888"/>
<circle cx="218.3" cy="106.2" r="3" fill="#9a9a9a" stroke="#f0f0f0" stroke-width="1"/>
</g>
<text x="49.30" y="144.90" font-size="13.2" text-anchor="start" fill="#111" textLength="78.70" lengthAdjust="spacingAndGlyphs">Scram siRNA</text>
<text x="175.20" y="144.80" font-size="13.2" text-anchor="start" fill="#111" textLength="84.40" lengthAdjust="spacingAndGlyphs">VEGFA siRNA</text>
<text x="348.90" y="13.20" font-size="9.6" text-anchor="start" fill="#222" stroke="#222" stroke-width="0.22" font-weight="bold" textLength="58.10" lengthAdjust="spacingAndGlyphs">Neurite Count</text>
<line x1="332.00" y1="28.80" x2="332.00" y2="116.00" stroke="#111" stroke-width="1.25"/>
<line x1="329.20" y1="115.50" x2="332.00" y2="115.50" stroke="#111" stroke-width="1.25"/>
<text x="327.80" y="117.90" font-size="6.6" text-anchor="end" fill="#222" stroke="#222" stroke-width="0.22" font-weight="bold" textLength="3.15" lengthAdjust="spacingAndGlyphs">0</text>
<line x1="329.20" y1="98.26" x2="332.00" y2="98.26" stroke="#111" stroke-width="1.25"/>
<text x="327.80" y="100.66" font-size="6.6" text-anchor="end" fill="#222" stroke="#222" stroke-width="0.22" font-weight="bold" textLength="9.45" lengthAdjust="spacingAndGlyphs">100</text>
<line x1="329.20" y1="81.02" x2="332.00" y2="81.02" stroke="#111" stroke-width="1.25"/>
<text x="327.80" y="83.42" font-size="6.6" text-anchor="end" fill="#222" stroke="#222" stroke-width="0.22" font-weight="bold" textLength="9.45" lengthAdjust="spacingAndGlyphs">200</text>
<line x1="329.20" y1="63.78" x2="332.00" y2="63.78" stroke="#111" stroke-width="1.25"/>
<text x="327.80" y="66.18" font-size="6.6" text-anchor="end" fill="#222" stroke="#222" stroke-width="0.22" font-weight="bold" textLength="9.45" lengthAdjust="spacingAndGlyphs">300</text>
<line x1="329.20" y1="46.54" x2="332.00" y2="46.54" stroke="#111" stroke-width="1.25"/>
<text x="327.80" y="48.94" font-size="6.6" text-anchor="end" fill="#222" stroke="#222" stroke-width="0.22" font-weight="bold" textLength="9.45" lengthAdjust="spacingAndGlyphs">400</text>
<line x1="329.20" y1="29.30" x2="332.00" y2="29.30" stroke="#111" stroke-width="1.25"/>
<text x="327.80" y="31.70" font-size="6.6" text-anchor="end" fill="#222" stroke="#222" stroke-width="0.22" font-weight="bold" textLength="9.45" lengthAdjust="spacingAndGlyphs">500</text>
<line x1="331.50" y1="115.50" x2="413.80" y2="115.50" stroke="#111" stroke-width="1.25"/>
<rect x="344.85" y="60.95" width="22.00" height="54.55" fill="#fff" stroke="#000" stroke-width="1.5"/>
<line x1="355.85" y1="115.50" x2="355.85" y2="118.50" stroke="#111" stroke-width="1.25"/>
<rect x="379.95" y="68.35" width="21.70" height="47.15" fill="#fff" stroke="#000" stroke-width="1.5"/>
<line x1="390.80" y1="115.50" x2="390.80" y2="118.50" stroke="#111" stroke-width="1.25"/>
<line x1="355.90" y1="46.10" x2="355.90" y2="72.90" stroke="#111" stroke-width="1.3"/>
<line x1="349.90" y1="46.10" x2="361.90" y2="46.10" stroke="#111" stroke-width="1.3"/>
<line x1="349.90" y1="72.90" x2="361.90" y2="72.90" stroke="#111" stroke-width="1.3"/>
<circle cx="355.90" cy="45.10" r="2.1" fill="#000"/>
<circle cx="355.90" cy="63.60" r="2.1" fill="#000"/>
<circle cx="355.90" cy="70.30" r="2.1" fill="#000"/>
<line x1="390.70" y1="56.60" x2="390.70" y2="77.90" stroke="#111" stroke-width="1.3"/>
<line x1="384.70" y1="56.60" x2="396.70" y2="56.60" stroke="#111" stroke-width="1.3"/>
<line x1="384.70" y1="77.90" x2="396.70" y2="77.90" stroke="#111" stroke-width="1.3"/>
<circle cx="390.70" cy="55.20" r="1.8" fill="#fff" stroke="#000" stroke-width="1.0"/>
<rect x="389.10" y="70.00" width="3.2" height="3.2" fill="#ccc" stroke="#000" stroke-width="1.0"/>
<rect x="389.10" y="72.60" width="3.2" height="3.2" fill="#ccc" stroke="#000" stroke-width="1.0"/>
<polyline points="355.9,40.5 355.9,34.1 390.7,34.1 390.7,50.5" fill="none" stroke="#000" stroke-width="1.2"/>
<text x="372.90" y="30.20" font-size="7.5" text-anchor="middle" fill="#000" stroke="#000" stroke-width="0.15" textLength="7.10" lengthAdjust="spacingAndGlyphs">ns</text>
<text x="314.00" y="72.05" font-size="6.0" text-anchor="middle" fill="#111" textLength="27.90" lengthAdjust="spacingAndGlyphs" transform="rotate(-90 314.00 72.05)" stroke="#111" stroke-width="0.2">Neurites</text>
<text x="339.80" y="125.90" font-size="5.6" text-anchor="start" fill="#222" stroke="#222" stroke-width="0.22" font-weight="bold" textLength="31.40" lengthAdjust="spacingAndGlyphs">Scram siRNA</text>
<text x="373.80" y="125.90" font-size="5.6" text-anchor="start" fill="#222" stroke="#222" stroke-width="0.22" font-weight="bold" textLength="33.00" lengthAdjust="spacingAndGlyphs">VEGFA siRNA</text>
<text x="438.60" y="14.00" font-size="9.6" text-anchor="start" fill="#222" stroke="#222" stroke-width="0.22" font-weight="bold" textLength="82.00" lengthAdjust="spacingAndGlyphs">Avg. Neurite Length</text>
<line x1="446.60" y1="31.50" x2="446.60" y2="115.80" stroke="#111" stroke-width="1.25"/>
<line x1="443.80" y1="115.30" x2="446.60" y2="115.30" stroke="#111" stroke-width="1.25"/>
<text x="442.40" y="117.70" font-size="6.6" text-anchor="end" fill="#222" stroke="#222" stroke-width="0.22" font-weight="bold" textLength="3.15" lengthAdjust="spacingAndGlyphs">0</text>
<line x1="443.80" y1="94.47" x2="446.60" y2="94.47" stroke="#111" stroke-width="1.25"/>
<text x="442.40" y="96.88" font-size="6.6" text-anchor="end" fill="#222" stroke="#222" stroke-width="0.22" font-weight="bold" textLength="6.30" lengthAdjust="spacingAndGlyphs">20</text>
<line x1="443.80" y1="73.65" x2="446.60" y2="73.65" stroke="#111" stroke-width="1.25"/>
<text x="442.40" y="76.05" font-size="6.6" text-anchor="end" fill="#222" stroke="#222" stroke-width="0.22" font-weight="bold" textLength="6.30" lengthAdjust="spacingAndGlyphs">40</text>
<line x1="443.80" y1="52.82" x2="446.60" y2="52.82" stroke="#111" stroke-width="1.25"/>
<text x="442.40" y="55.22" font-size="6.6" text-anchor="end" fill="#222" stroke="#222" stroke-width="0.22" font-weight="bold" textLength="6.30" lengthAdjust="spacingAndGlyphs">60</text>
<line x1="443.80" y1="32.00" x2="446.60" y2="32.00" stroke="#111" stroke-width="1.25"/>
<text x="442.40" y="34.40" font-size="6.6" text-anchor="end" fill="#222" stroke="#222" stroke-width="0.22" font-weight="bold" textLength="6.30" lengthAdjust="spacingAndGlyphs">80</text>
<line x1="446.10" y1="115.30" x2="531.00" y2="115.30" stroke="#111" stroke-width="1.25"/>
<rect x="460.25" y="61.75" width="21.70" height="53.55" fill="#fff" stroke="#000" stroke-width="1.5"/>
<line x1="471.10" y1="115.30" x2="471.10" y2="118.30" stroke="#111" stroke-width="1.25"/>
<rect x="496.35" y="77.05" width="21.80" height="38.25" fill="#fff" stroke="#000" stroke-width="1.5"/>
<line x1="507.25" y1="115.30" x2="507.25" y2="118.30" stroke="#111" stroke-width="1.25"/>
<line x1="471.30" y1="42.10" x2="471.30" y2="79.00" stroke="#111" stroke-width="1.3"/>
<line x1="465.30" y1="42.10" x2="477.30" y2="42.10" stroke="#111" stroke-width="1.3"/>
<line x1="465.30" y1="79.00" x2="477.30" y2="79.00" stroke="#111" stroke-width="1.3"/>
<circle cx="471.30" cy="42.10" r="2.1" fill="#000"/>
<circle cx="471.30" cy="59.70" r="2.1" fill="#000"/>
<circle cx="471.30" cy="79.00" r="2.1" fill="#000"/>
<line x1="507.30" y1="64.70" x2="507.30" y2="86.00" stroke="#111" stroke-width="1.3"/>
<line x1="501.30" y1="64.70" x2="513.30" y2="64.70" stroke="#111" stroke-width="1.3"/>
<line x1="501.30" y1="86.00" x2="513.30" y2="86.00" stroke="#111" stroke-width="1.3"/>
<circle cx="507.30" cy="64.70" r="1.8" fill="#555" stroke="#000" stroke-width="0.6"/>
<rect x="505.70" y="73.10" width="3.2" height="3.2" fill="#ccc" stroke="#000" stroke-width="1.0"/>
<rect x="505.70" y="84.40" width="3.2" height="3.2" fill="#ccc" stroke="#000" stroke-width="1.0"/>
<polyline points="471.3,38.5 471.3,32.0 507.5,32.0 507.5,60.0" fill="none" stroke="#000" stroke-width="1.2"/>
<text x="488.60" y="27.30" font-size="7.5" text-anchor="middle" fill="#000" stroke="#000" stroke-width="0.15" textLength="7.10" lengthAdjust="spacingAndGlyphs">ns</text>
<text x="430.60" y="73.10" font-size="6.0" text-anchor="middle" fill="#111" textLength="74.20" lengthAdjust="spacingAndGlyphs" transform="rotate(-90 430.60 73.10)" stroke="#111" stroke-width="0.2">Neurite Length (pixels)</text>
<text x="454.30" y="125.30" font-size="5.6" text-anchor="start" fill="#222" stroke="#222" stroke-width="0.22" font-weight="bold" textLength="33.20" lengthAdjust="spacingAndGlyphs">Scram siRNA</text>
<text x="489.40" y="125.30" font-size="5.6" text-anchor="start" fill="#222" stroke="#222" stroke-width="0.22" font-weight="bold" textLength="35.00" lengthAdjust="spacingAndGlyphs">VEGFA siRNA</text>
<text x="563.60" y="14.00" font-size="9.6" text-anchor="start" fill="#222" stroke="#222" stroke-width="0.22" font-weight="bold" textLength="83.00" lengthAdjust="spacingAndGlyphs">Total Neurite Length</text>
<line x1="572.40" y1="34.10" x2="572.40" y2="116.40" stroke="#111" stroke-width="1.25"/>
<line x1="569.60" y1="115.90" x2="572.40" y2="115.90" stroke="#111" stroke-width="1.25"/>
<text x="568.20" y="118.30" font-size="6.0" text-anchor="end" fill="#222" stroke="#222" stroke-width="0.22" font-weight="bold" textLength="3.10" lengthAdjust="spacingAndGlyphs">0</text>
<line x1="569.60" y1="95.58" x2="572.40" y2="95.58" stroke="#111" stroke-width="1.25"/>
<text x="568.20" y="97.98" font-size="6.0" text-anchor="end" fill="#222" stroke="#222" stroke-width="0.22" font-weight="bold" textLength="12.40" lengthAdjust="spacingAndGlyphs">5000</text>
<line x1="569.60" y1="75.25" x2="572.40" y2="75.25" stroke="#111" stroke-width="1.25"/>
<text x="568.20" y="77.65" font-size="6.0" text-anchor="end" fill="#222" stroke="#222" stroke-width="0.22" font-weight="bold" textLength="15.50" lengthAdjust="spacingAndGlyphs">10000</text>
<line x1="569.60" y1="54.92" x2="572.40" y2="54.92" stroke="#111" stroke-width="1.25"/>
<text x="568.20" y="57.32" font-size="6.0" text-anchor="end" fill="#222" stroke="#222" stroke-width="0.22" font-weight="bold" textLength="15.50" lengthAdjust="spacingAndGlyphs">15000</text>
<line x1="569.60" y1="34.60" x2="572.40" y2="34.60" stroke="#111" stroke-width="1.25"/>
<text x="568.20" y="37.00" font-size="6.0" text-anchor="end" fill="#222" stroke="#222" stroke-width="0.22" font-weight="bold" textLength="15.50" lengthAdjust="spacingAndGlyphs">20000</text>
<line x1="571.90" y1="115.90" x2="650.30" y2="115.90" stroke="#111" stroke-width="1.25"/>
<rect x="585.20" y="51.00" width="19.60" height="64.90" fill="#fff" stroke="#000" stroke-width="1.2"/>
<line x1="595.00" y1="115.90" x2="595.00" y2="118.90" stroke="#111" stroke-width="1.25"/>
<rect x="618.20" y="75.40" width="19.80" height="40.50" fill="#fff" stroke="#000" stroke-width="1.2"/>
<line x1="628.10" y1="115.90" x2="628.10" y2="118.90" stroke="#111" stroke-width="1.25"/>
<line x1="594.80" y1="40.80" x2="594.80" y2="58.70" stroke="#111" stroke-width="1.3"/>
<line x1="588.80" y1="40.80" x2="600.80" y2="40.80" stroke="#111" stroke-width="1.3"/>
<line x1="588.80" y1="58.70" x2="600.80" y2="58.70" stroke="#111" stroke-width="1.3"/>
<circle cx="594.80" cy="40.80" r="2.1" fill="#000"/>
<circle cx="594.80" cy="51.30" r="2.1" fill="#000"/>
<circle cx="594.80" cy="58.70" r="2.1" fill="#000"/>
<line x1="628.00" y1="70.00" x2="628.00" y2="77.00" stroke="#111" stroke-width="1.3"/>
<line x1="622.00" y1="70.00" x2="634.00" y2="70.00" stroke="#111" stroke-width="1.3"/>
<line x1="622.00" y1="77.00" x2="634.00" y2="77.00" stroke="#111" stroke-width="1.3"/>
<circle cx="628.00" cy="70.00" r="1.8" fill="#fff" stroke="#000" stroke-width="1.0"/>
<rect x="626.40" y="72.70" width="3.2" height="3.2" fill="#ccc" stroke="#000" stroke-width="1.0"/>
<rect x="626.40" y="73.90" width="3.2" height="3.2" fill="#ccc" stroke="#000" stroke-width="1.0"/>
<polyline points="594.0,37.0 594.0,31.2 628.0,31.2 628.0,66.0" fill="none" stroke="#000" stroke-width="1.2"/>
<text x="611.50" y="32.20" font-size="10" text-anchor="middle" fill="#000" stroke="#000" stroke-width="0.15" textLength="8.60" lengthAdjust="spacingAndGlyphs">**</text>
<text x="548.00" y="73.35" font-size="6.0" text-anchor="middle" fill="#111" textLength="76.70" lengthAdjust="spacingAndGlyphs" transform="rotate(-90 548.00 73.35)" stroke="#111" stroke-width="0.2">Neurite Length (pixels)</text>
<text x="579.30" y="125.70" font-size="5.6" text-anchor="start" fill="#222" stroke="#222" stroke-width="0.22" font-weight="bold" textLength="30.00" lengthAdjust="spacingAndGlyphs">Scram siRNA</text>
<text x="611.00" y="125.70" font-size="5.6" text-anchor="start" fill="#222" stroke="#222" stroke-width="0.22" font-weight="bold" textLength="32.70" lengthAdjust="spacingAndGlyphs">VEGFA siRNA</text>
<text x="18.20" y="184.40" font-size="8.6" text-anchor="start" fill="#111" stroke="#111" stroke-width="0.22" font-weight="bold" textLength="197.20" lengthAdjust="spacingAndGlyphs">Neuronal Cells: VEGFA siRNA v Scram siRNA</text>
<text x="19.40" y="215.40" font-size="13.0" text-anchor="start" fill="#1a1aff" stroke="#1a1aff" stroke-width="0.22" font-weight="bold" textLength="13.20" lengthAdjust="spacingAndGlyphs">39</text>
<text x="192.80" y="216.70" font-size="13.0" text-anchor="start" fill="#ff1a1a" stroke="#ff1a1a" stroke-width="0.22" font-weight="bold" textLength="19.80" lengthAdjust="spacingAndGlyphs">107</text>
<line x1="106.60" y1="198.00" x2="106.60" y2="371.00" stroke="#222" stroke-width="1.3" stroke-dasharray="2.2 2.1"/>
<line x1="126.80" y1="198.00" x2="126.80" y2="371.00" stroke="#222" stroke-width="1.3" stroke-dasharray="2.2 2.1"/>
<line x1="16.50" y1="313.80" x2="218.00" y2="313.80" stroke="#222" stroke-width="1.0" stroke-dasharray="2.6 1.7"/>
<polygon points="94.8,314.8 110.8,314.8 110.9,320 113.6,342.7 115.3,359 116.3,367 116.6,371 110,371 104.6,366.5 99.7,361 94.8,353 91.5,343 89.9,330 91.5,320" fill="#000"/>
<polygon points="124.2,314.8 139,314.8 140.5,318.2 143,326.3 142.2,337.8 141.3,347.6 135.6,357.4 129.1,364 122.6,369 117,371 116.8,367 117.7,359 119.5,342.7 124,320" fill="#000"/>
<circle cx="103.0" cy="364.7" r="1.2" fill="#000"/>
<circle cx="101.5" cy="362.6" r="1.2" fill="#000"/>
<circle cx="101.9" cy="364.2" r="1.2" fill="#000"/>
<circle cx="99.1" cy="361.6" r="1.2" fill="#000"/>
<circle cx="99.3" cy="361.5" r="1.2" fill="#000"/>
<circle cx="99.4" cy="360.2" r="1.2" fill="#000"/>
<circle cx="96.6" cy="359.4" r="1.2" fill="#000"/>
<circle cx="94.2" cy="351.9" r="1.2" fill="#000"/>
<circle cx="90.3" cy="347.0" r="1.2" fill="#000"/>
<circle cx="92.2" cy="347.4" r="1.2" fill="#000"/>
<circle cx="91.9" cy="343.3" r="1.2" fill="#000"/>
<circle cx="89.8" cy="331.6" r="1.2" fill="#000"/>
<circle cx="91.4" cy="341.2" r="1.2" fill="#000"/>
<circle cx="89.2" cy="338.1" r="1.2" fill="#000"/>
<circle cx="90.0" cy="340.2" r="1.2" fill="#000"/>
<circle cx="90.0" cy="334.3" r="1.2" fill="#000"/>
<circle cx="90.9" cy="324.8" r="1.2" fill="#000"/>
<circle cx="89.9" cy="329.3" r="1.2" fill="#000"/>
<circle cx="90.6" cy="322.5" r="1.2" fill="#000"/>
<circle cx="89.6" cy="325.8" r="1.2" fill="#000"/>
<circle cx="92.8" cy="317.2" r="1.2" fill="#000"/>
<circle cx="93.6" cy="314.3" r="1.2" fill="#000"/>
<circle cx="139.8" cy="314.4" r="1.2" fill="#000"/>
<circle cx="142.9" cy="320.5" r="1.2" fill="#000"/>
<circle cx="142.5" cy="323.8" r="1.2" fill="#000"/>
<circle cx="142.9" cy="326.2" r="1.2" fill="#000"/>
<circle cx="144.0" cy="329.8" r="1.2" fill="#000"/>
<circle cx="143.5" cy="327.3" r="1.2" fill="#000"/>
<circle cx="144.0" cy="325.5" r="1.2" fill="#000"/>
<circle cx="143.5" cy="334.4" r="1.2" fill="#000"/>
<circle cx="142.7" cy="336.1" r="1.2" fill="#000"/>
<circle cx="142.9" cy="344.7" r="1.2" fill="#000"/>
<circle cx="142.6" cy="343.5" r="1.2" fill="#000"/>
<circle cx="143.8" cy="346.5" r="1.2" fill="#000"/>
<circle cx="143.3" cy="342.3" r="1.2" fill="#000"/>
<circle cx="142.5" cy="348.8" r="1.2" fill="#000"/>
<circle cx="139.2" cy="356.0" r="1.2" fill="#000"/>
<circle cx="136.8" cy="356.0" r="1.2" fill="#000"/>
<circle cx="140.3" cy="352.4" r="1.2" fill="#000"/>
<circle cx="142.0" cy="348.1" r="1.2" fill="#000"/>
<circle cx="134.5" cy="358.4" r="1.2" fill="#000"/>
<circle cx="135.9" cy="359.5" r="1.2" fill="#000"/>
<circle cx="134.8" cy="358.5" r="1.2" fill="#000"/>
<circle cx="133.5" cy="362.1" r="1.2" fill="#000"/>
<circle cx="128.5" cy="365.3" r="1.2" fill="#000"/>
<circle cx="125.2" cy="369.0" r="1.2" fill="#000"/>
<circle cx="123.3" cy="370.2" r="1.2" fill="#000"/>
<circle cx="70.4" cy="329.2" r="1.25" fill="#000"/>
<circle cx="73.2" cy="333.0" r="1.25" fill="#000"/>
<circle cx="79.8" cy="333.9" r="1.25" fill="#000"/>
<circle cx="79.8" cy="322.2" r="1.25" fill="#000"/>
<circle cx="81.7" cy="321.1" r="1.25" fill="#000"/>
<circle cx="85.4" cy="330.1" r="1.25" fill="#000"/>
<circle cx="88.3" cy="339.6" r="1.25" fill="#000"/>
<circle cx="93.9" cy="355.6" r="1.25" fill="#000"/>
<circle cx="154.2" cy="317.9" r="1.25" fill="#000"/>
<circle cx="155.1" cy="338.6" r="1.25" fill="#000"/>
<circle cx="153.3" cy="344.3" r="1.25" fill="#000"/>
<circle cx="163.2" cy="342.4" r="1.25" fill="#000"/>
<circle cx="141.0" cy="353.7" r="1.25" fill="#000"/>
<circle cx="148.5" cy="317.0" r="1.25" fill="#000"/>
<circle cx="202.6" cy="328.1" r="1.25" fill="#000"/>
<circle cx="86.6" cy="339.4" r="1.25" fill="#000"/>
<circle cx="87.4" cy="331.0" r="1.25" fill="#000"/>
<circle cx="144.6" cy="332.9" r="1.25" fill="#000"/>
<circle cx="142.2" cy="353.3" r="1.25" fill="#000"/>
<circle cx="147.0" cy="342.7" r="1.25" fill="#000"/>
<circle cx="146.0" cy="322.0" r="1.25" fill="#000"/>
<circle cx="88.0" cy="318.0" r="1.25" fill="#000"/>
<circle cx="97.0" cy="363.0" r="1.25" fill="#000"/>
<circle cx="101.0" cy="366.0" r="1.25" fill="#000"/>
<line x1="116.60" y1="198.00" x2="116.60" y2="371.30" stroke="#777" stroke-width="1.2"/>
<line x1="115.60" y1="198.00" x2="117.10" y2="198.00" stroke="#222" stroke-width="1.1"/>
<line x1="114.40" y1="371.30" x2="116.60" y2="371.30" stroke="#222" stroke-width="0.8"/>
<line x1="115.40" y1="365.52" x2="116.60" y2="365.52" stroke="#222" stroke-width="0.8"/>
<line x1="115.40" y1="359.74" x2="116.60" y2="359.74" stroke="#222" stroke-width="0.8"/>
<line x1="115.40" y1="353.96" x2="116.60" y2="353.96" stroke="#222" stroke-width="0.8"/>
<line x1="115.40" y1="348.18" x2="116.60" y2="348.18" stroke="#222" stroke-width="0.8"/>
<line x1="115.40" y1="342.40" x2="116.60" y2="342.40" stroke="#222" stroke-width="0.8"/>
<line x1="115.40" y1="336.62" x2="116.60" y2="336.62" stroke="#222" stroke-width="0.8"/>
<line x1="115.40" y1="330.84" x2="116.60" y2="330.84" stroke="#222" stroke-width="0.8"/>
<line x1="115.40" y1="325.06" x2="116.60" y2="325.06" stroke="#222" stroke-width="0.8"/>
<line x1="115.40" y1="319.28" x2="116.60" y2="319.28" stroke="#222" stroke-width="0.8"/>
<line x1="114.40" y1="313.50" x2="116.60" y2="313.50" stroke="#222" stroke-width="0.8"/>
<line x1="115.40" y1="307.72" x2="116.60" y2="307.72" stroke="#222" stroke-width="0.8"/>
<line x1="115.40" y1="301.94" x2="116.60" y2="301.94" stroke="#222" stroke-width="0.8"/>
<line x1="115.40" y1="296.16" x2="116.60" y2="296.16" stroke="#222" stroke-width="0.8"/>
<line x1="115.40" y1="290.38" x2="116.60" y2="290.38" stroke="#222" stroke-width="0.8"/>
<line x1="115.40" y1="284.60" x2="116.60" y2="284.60" stroke="#222" stroke-width="0.8"/>
<line x1="115.40" y1="278.82" x2="116.60" y2="278.82" stroke="#222" stroke-width="0.8"/>
<line x1="115.40" y1="273.04" x2="116.60" y2="273.04" stroke="#222" stroke-width="0.8"/>
<line x1="115.40" y1="267.26" x2="116.60" y2="267.26" stroke="#222" stroke-width="0.8"/>
<line x1="115.40" y1="261.48" x2="116.60" y2="261.48" stroke="#222" stroke-width="0.8"/>
<line x1="114.40" y1="255.70" x2="116.60" y2="255.70" stroke="#222" stroke-width="0.8"/>
<line x1="115.40" y1="249.92" x2="116.60" y2="249.92" stroke="#222" stroke-width="0.8"/>
<line x1="115.40" y1="244.14" x2="116.60" y2="244.14" stroke="#222" stroke-width="0.8"/>
<line x1="115.40" y1="238.36" x2="116.60" y2="238.36" stroke="#222" stroke-width="0.8"/>
<line x1="115.40" y1="232.58" x2="116.60" y2="232.58" stroke="#222" stroke-width="0.8"/>
<line x1="115.40" y1="226.80" x2="116.60" y2="226.80" stroke="#222" stroke-width="0.8"/>
<line x1="115.40" y1="221.02" x2="116.60" y2="221.02" stroke="#222" stroke-width="0.8"/>
<line x1="115.40" y1="215.24" x2="116.60" y2="215.24" stroke="#222" stroke-width="0.8"/>
<line x1="115.40" y1="209.46" x2="116.60" y2="209.46" stroke="#222" stroke-width="0.8"/>
<line x1="115.40" y1="203.68" x2="116.60" y2="203.68" stroke="#222" stroke-width="0.8"/>
<line x1="114.40" y1="197.90" x2="116.60" y2="197.90" stroke="#222" stroke-width="0.8"/>
<text x="113.60" y="316.50" font-size="8.4" text-anchor="end" fill="#111" stroke="#111" stroke-width="0.22" font-weight="bold">1</text>
<text x="113.60" y="258.70" font-size="8.4" text-anchor="end" fill="#111" stroke="#111" stroke-width="0.22" font-weight="bold">2</text>
<text x="113.60" y="200.90" font-size="8.4" text-anchor="end" fill="#111" stroke="#111" stroke-width="0.22" font-weight="bold">3</text>
<line x1="16.30" y1="371.30" x2="216.90" y2="371.30" stroke="#222" stroke-width="1.1"/>
<line x1="16.60" y1="371.30" x2="16.60" y2="373.70" stroke="#222" stroke-width="0.8"/>
<line x1="21.60" y1="371.30" x2="21.60" y2="372.50" stroke="#222" stroke-width="0.8"/>
<line x1="26.60" y1="371.30" x2="26.60" y2="372.50" stroke="#222" stroke-width="0.8"/>
<line x1="31.60" y1="371.30" x2="31.60" y2="372.50" stroke="#222" stroke-width="0.8"/>
<line x1="36.60" y1="371.30" x2="36.60" y2="372.50" stroke="#222" stroke-width="0.8"/>
<line x1="41.60" y1="371.30" x2="41.60" y2="373.70" stroke="#222" stroke-width="0.8"/>
<line x1="46.60" y1="371.30" x2="46.60" y2="372.50" stroke="#222" stroke-width="0.8"/>
<line x1="51.60" y1="371.30" x2="51.60" y2="372.50" stroke="#222" stroke-width="0.8"/>
<line x1="56.60" y1="371.30" x2="56.60" y2="372.50" stroke="#222" stroke-width="0.8"/>
<line x1="61.60" y1="371.30" x2="61.60" y2="372.50" stroke="#222" stroke-width="0.8"/>
<line x1="66.60" y1="371.30" x2="66.60" y2="373.70" stroke="#222" stroke-width="0.8"/>
<line x1="71.60" y1="371.30" x2="71.60" y2="372.50" stroke="#222" stroke-width="0.8"/>
<line x1="76.60" y1="371.30" x2="76.60" y2="372.50" stroke="#222" stroke-width="0.8"/>
<line x1="81.60" y1="371.30" x2="81.60" y2="372.50" stroke="#222" stroke-width="0.8"/>
<line x1="86.60" y1="371.30" x2="86.60" y2="372.50" stroke="#222" stroke-width="0.8"/>
<line x1="91.60" y1="371.30" x2="91.60" y2="373.70" stroke="#222" stroke-width="0.8"/>
<line x1="96.60" y1="371.30" x2="96.60" y2="372.50" stroke="#222" stroke-width="0.8"/>
<line x1="101.60" y1="371.30" x2="101.60" y2="372.50" stroke="#222" stroke-width="0.8"/>
<line x1="106.60" y1="371.30" x2="106.60" y2="372.50" stroke="#222" stroke-width="0.8"/>
<line x1="111.60" y1="371.30" x2="111.60" y2="372.50" stroke="#222" stroke-width="0.8"/>
<line x1="116.60" y1="371.30" x2="116.60" y2="373.70" stroke="#222" stroke-width="0.8"/>
<line x1="121.60" y1="371.30" x2="121.60" y2="372.50" stroke="#222" stroke-width="0.8"/>
<line x1="126.60" y1="371.30" x2="126.60" y2="372.50" stroke="#222" stroke-width="0.8"/>
<line x1="131.60" y1="371.30" x2="131.60" y2="372.50" stroke="#222" stroke-width="0.8"/>
<line x1="136.60" y1="371.30" x2="136.60" y2="372.50" stroke="#222" stroke-width="0.8"/>
<line x1="141.60" y1="371.30" x2="141.60" y2="373.70" stroke="#222" stroke-width="0.8"/>
<line x1="146.60" y1="371.30" x2="146.60" y2="372.50" stroke="#222" stroke-width="0.8"/>
<line x1="151.60" y1="371.30" x2="151.60" y2="372.50" stroke="#222" stroke-width="0.8"/>
<line x1="156.60" y1="371.30" x2="156.60" y2="372.50" stroke="#222" stroke-width="0.8"/>
<line x1="161.60" y1="371.30" x2="161.60" y2="372.50" stroke="#222" stroke-width="0.8"/>
<line x1="166.60" y1="371.30" x2="166.60" y2="373.70" stroke="#222" stroke-width="0.8"/>
<line x1="171.60" y1="371.30" x2="171.60" y2="372.50" stroke="#222" stroke-width="0.8"/>
<line x1="176.60" y1="371.30" x2="176.60" y2="372.50" stroke="#222" stroke-width="0.8"/>
<line x1="181.60" y1="371.30" x2="181.60" y2="372.50" stroke="#222" stroke-width="0.8"/>
<line x1="186.60" y1="371.30" x2="186.60" y2="372.50" stroke="#222" stroke-width="0.8"/>
<line x1="191.60" y1="371.30" x2="191.60" y2="373.70" stroke="#222" stroke-width="0.8"/>
<line x1="196.60" y1="371.30" x2="196.60" y2="372.50" stroke="#222" stroke-width="0.8"/>
<line x1="201.60" y1="371.30" x2="201.60" y2="372.50" stroke="#222" stroke-width="0.8"/>
<line x1="206.60" y1="371.30" x2="206.60" y2="372.50" stroke="#222" stroke-width="0.8"/>
<line x1="211.60" y1="371.30" x2="211.60" y2="372.50" stroke="#222" stroke-width="0.8"/>
<line x1="216.60" y1="371.30" x2="216.60" y2="373.70" stroke="#222" stroke-width="0.8"/>
<text x="15.00" y="382.40" font-size="8.2" text-anchor="middle" fill="#111" stroke="#111" stroke-width="0.22" font-weight="bold">-4</text>
<text x="40.00" y="382.40" font-size="8.2" text-anchor="middle" fill="#111" stroke="#111" stroke-width="0.22" font-weight="bold">-3</text>
<text x="65.00" y="382.40" font-size="8.2" text-anchor="middle" fill="#111" stroke="#111" stroke-width="0.22" font-weight="bold">-2</text>
<text x="90.00" y="382.40" font-size="8.2" text-anchor="middle" fill="#111" stroke="#111" stroke-width="0.22" font-weight="bold">-1</text>
<text x="116.60" y="382.40" font-size="8.2" text-anchor="middle" fill="#111" stroke="#111" stroke-width="0.22" font-weight="bold">0</text>
<text x="141.60" y="382.40" font-size="8.2" text-anchor="middle" fill="#111" stroke="#111" stroke-width="0.22" font-weight="bold">1</text>
<text x="166.60" y="382.40" font-size="8.2" text-anchor="middle" fill="#111" stroke="#111" stroke-width="0.22" font-weight="bold">2</text>
<text x="191.60" y="382.40" font-size="8.2" text-anchor="middle" fill="#111" stroke="#111" stroke-width="0.22" font-weight="bold">3</text>
<text x="216.60" y="382.40" font-size="8.2" text-anchor="middle" fill="#111" stroke="#111" stroke-width="0.22" font-weight="bold">4</text>
<text x="106.00" y="393.40" font-size="7.8" text-anchor="start" fill="#111" stroke="#111" stroke-width="0.22" font-weight="bold" textLength="21.90" lengthAdjust="spacingAndGlyphs">logFC</text>
<text x="8.20" y="289.30" font-size="8.0" text-anchor="middle" fill="#111" stroke="#111" stroke-width="0.22" font-weight="bold" textLength="78.40" lengthAdjust="spacingAndGlyphs" transform="rotate(-90 8.20 289.30)">-log10(adj p val)</text>
<circle cx="69.3" cy="292.1" r="1.2" fill="#1a1aff"/>
<circle cx="67.3" cy="296.9" r="1.2" fill="#1a1aff"/>
<circle cx="91.5" cy="287.1" r="1.2" fill="#1a1aff"/>
<circle cx="90.0" cy="292.1" r="1.2" fill="#1a1aff"/>
<circle cx="96.0" cy="291.4" r="1.2" fill="#1a1aff"/>
<circle cx="91.9" cy="296.9" r="1.2" fill="#1a1aff"/>
<circle cx="102.8" cy="302.7" r="1.2" fill="#1a1aff"/>
<circle cx="92.2" cy="307.9" r="1.2" fill="#1a1aff"/>
<circle cx="100.5" cy="308.2" r="1.2" fill="#1a1aff"/>
<circle cx="105.0" cy="307.9" r="1.2" fill="#1a1aff"/>
<circle cx="70.4" cy="311.6" r="1.2" fill="#1a1aff"/>
<circle cx="57.6" cy="312.4" r="1.2" fill="#1a1aff"/>
<circle cx="85.5" cy="310.5" r="1.2" fill="#1a1aff"/>
<circle cx="87.0" cy="312.2" r="1.2" fill="#1a1aff"/>
<circle cx="89.5" cy="311.8" r="1.2" fill="#1a1aff"/>
<circle cx="92.0" cy="312.5" r="1.2" fill="#1a1aff"/>
<circle cx="94.5" cy="311.6" r="1.2" fill="#1a1aff"/>
<circle cx="97.0" cy="312.3" r="1.2" fill="#1a1aff"/>
<circle cx="99.0" cy="311.5" r="1.2" fill="#1a1aff"/>
<circle cx="101.5" cy="312.3" r="1.2" fill="#1a1aff"/>
<circle cx="103.5" cy="311.3" r="1.2" fill="#1a1aff"/>
<circle cx="105.5" cy="312.5" r="1.2" fill="#1a1aff"/>
<circle cx="95.5" cy="309.5" r="1.2" fill="#1a1aff"/>
<circle cx="98.0" cy="310.0" r="1.2" fill="#1a1aff"/>
<circle cx="103.0" cy="309.8" r="1.2" fill="#1a1aff"/>
<circle cx="88.0" cy="309.3" r="1.2" fill="#1a1aff"/>
<circle cx="144.5" cy="286.8" r="1.2" fill="#ff1a1a"/>
<circle cx="168.7" cy="286.5" r="1.2" fill="#ff1a1a"/>
<circle cx="154.8" cy="297.0" r="1.2" fill="#ff1a1a"/>
<circle cx="158.4" cy="297.0" r="1.2" fill="#ff1a1a"/>
<circle cx="164.9" cy="297.0" r="1.2" fill="#ff1a1a"/>
<circle cx="147.8" cy="304.5" r="1.2" fill="#ff1a1a"/>
<circle cx="160.8" cy="311.8" r="1.2" fill="#ff1a1a"/>
<circle cx="131.1" cy="292.2" r="1.2" fill="#ff1a1a"/>
<circle cx="133.9" cy="292.2" r="1.2" fill="#ff1a1a"/>
<circle cx="129.0" cy="297.1" r="1.2" fill="#ff1a1a"/>
<circle cx="132.2" cy="297.1" r="1.2" fill="#ff1a1a"/>
<circle cx="135.5" cy="297.1" r="1.2" fill="#ff1a1a"/>
<circle cx="138.0" cy="297.1" r="1.2" fill="#ff1a1a"/>
<circle cx="129.8" cy="300.7" r="1.2" fill="#ff1a1a"/>
<circle cx="133.1" cy="300.7" r="1.2" fill="#ff1a1a"/>
<circle cx="136.3" cy="300.7" r="1.2" fill="#ff1a1a"/>
<circle cx="130.6" cy="304.0" r="1.2" fill="#ff1a1a"/>
<circle cx="135.5" cy="304.0" r="1.2" fill="#ff1a1a"/>
<circle cx="131.4" cy="308.0" r="1.2" fill="#ff1a1a"/>
<circle cx="134.7" cy="308.0" r="1.2" fill="#ff1a1a"/>
<circle cx="138.0" cy="308.0" r="1.2" fill="#ff1a1a"/>
<circle cx="128.5" cy="311.5" r="1.2" fill="#ff1a1a"/>
<circle cx="130.5" cy="312.3" r="1.2" fill="#ff1a1a"/>
<circle cx="132.5" cy="311.5" r="1.2" fill="#ff1a1a"/>
<circle cx="134.5" cy="312.3" r="1.2" fill="#ff1a1a"/>
<circle cx="136.5" cy="311.6" r="1.2" fill="#ff1a1a"/>
<circle cx="138.5" cy="312.3" r="1.2" fill="#ff1a1a"/>
<circle cx="140.5" cy="311.7" r="1.2" fill="#ff1a1a"/>
<circle cx="142.5" cy="312.4" r="1.2" fill="#ff1a1a"/>
<circle cx="145.0" cy="312.0" r="1.2" fill="#ff1a1a"/>
<circle cx="147.0" cy="312.4" r="1.2" fill="#ff1a1a"/>
<circle cx="150.0" cy="312.0" r="1.2" fill="#ff1a1a"/>
<circle cx="153.0" cy="312.4" r="1.2" fill="#ff1a1a"/>
<circle cx="128.0" cy="306.0" r="1.2" fill="#ff1a1a"/>
<circle cx="129.0" cy="289.5" r="1.2" fill="#ff1a1a"/>
<circle cx="137.0" cy="304.5" r="1.2" fill="#ff1a1a"/>
<circle cx="139.5" cy="309.5" r="1.2" fill="#ff1a1a"/>
<circle cx="131.0" cy="295.0" r="1.2" fill="#ff1a1a"/>
<circle cx="134.0" cy="310.2" r="1.2" fill="#ff1a1a"/>
<text x="58.30" y="276.90" font-size="6.0" text-anchor="start" fill="#222" stroke="#222" stroke-width="0.22" font-weight="bold" font-style="italic" textLength="17.60" lengthAdjust="spacingAndGlyphs">SSTR2</text>
<text x="83.50" y="272.50" font-size="6.0" text-anchor="start" fill="#222" stroke="#222" stroke-width="0.22" font-weight="bold" font-style="italic" textLength="19.30" lengthAdjust="spacingAndGlyphs">EDNRA</text>
<text x="43.60" y="297.10" font-size="6.0" text-anchor="start" fill="#222" stroke="#222" stroke-width="0.22" font-weight="bold" font-style="italic" textLength="14.60" lengthAdjust="spacingAndGlyphs">SDK2</text>
<text x="134.30" y="257.20" font-size="6.0" text-anchor="start" fill="#222" stroke="#222" stroke-width="0.22" font-weight="bold" font-style="italic" textLength="10.70" lengthAdjust="spacingAndGlyphs">CLU</text>
<text x="156.90" y="267.90" font-size="6.0" text-anchor="start" fill="#222" stroke="#222" stroke-width="0.22" font-weight="bold" font-style="italic" textLength="18.90" lengthAdjust="spacingAndGlyphs">GREM1</text>
<text x="188.00" y="265.00" font-size="6.0" text-anchor="start" fill="#222" stroke="#222" stroke-width="0.22" font-weight="bold" font-style="italic" textLength="22.10" lengthAdjust="spacingAndGlyphs">S100A11</text>
<text x="182.90" y="296.60" font-size="6.0" text-anchor="start" fill="#222" stroke="#222" stroke-width="0.22" font-weight="bold" font-style="italic" textLength="12.20" lengthAdjust="spacingAndGlyphs">IL32</text>
<line x1="72.60" y1="278.10" x2="88.40" y2="290.20" stroke="#333" stroke-width="1.1"/>
<line x1="93.70" y1="275.00" x2="98.50" y2="310.50" stroke="#333" stroke-width="1.1"/>
<line x1="58.00" y1="298.60" x2="69.70" y2="310.70" stroke="#333" stroke-width="1.1"/>
<line x1="139.00" y1="259.30" x2="132.20" y2="308.90" stroke="#333" stroke-width="1.1"/>
<line x1="163.60" y1="271.20" x2="135.50" y2="308.90" stroke="#333" stroke-width="1.1"/>
<line x1="186.10" y1="267.90" x2="138.80" y2="311.30" stroke="#333" stroke-width="1.1"/>
<line x1="181.20" y1="295.80" x2="144.50" y2="311.30" stroke="#333" stroke-width="1.1"/>
<text x="467.40" y="184.00" font-size="6.6" text-anchor="middle" fill="#111" stroke="#111" stroke-width="0.22" font-weight="bold" textLength="82.70" lengthAdjust="spacingAndGlyphs">GO Biological Processes:</text>
<text x="467.40" y="191.50" font-size="6.6" text-anchor="middle" fill="#111" stroke="#111" stroke-width="0.22" font-weight="bold" textLength="47.50" lengthAdjust="spacingAndGlyphs">Neuronal Cells</text>
<text x="433.30" y="213.60" font-size="6.7" text-anchor="end" fill="#111" stroke="#111" stroke-width="0.22" font-weight="bold" textLength="113.50" lengthAdjust="spacingAndGlyphs">developmental process (GO:0032502)</text>
<line x1="435.20" y1="211.30" x2="438.30" y2="211.30" stroke="#111" stroke-width="1.0"/>
<rect x="438.30" y="204.60" width="3.80" height="13.60" fill="#000"/>
<text x="513.50" y="214.40" font-size="8.5" text-anchor="middle" fill="#111" stroke="#111" stroke-width="0.22" font-weight="bold">45</text>
<text x="524.00" y="207.70" font-size="4.0" text-anchor="start" fill="#444" font-style="italic" textLength="169.70" lengthAdjust="spacingAndGlyphs">DCC, ADAMTS2, VIM, GREM1, S100A4, BRINP2, ADAM23, EDNRA, TLE6, ASTN2, KCNB1,</text>
<text x="524.00" y="212.40" font-size="4.0" text-anchor="start" fill="#444" font-style="italic" textLength="169.00" lengthAdjust="spacingAndGlyphs">STC2, PTPN14, DHRS2, KRT18, NDN, AC010336, ANXA2, MYOZ1, SSTR2, TLE3, COL3A1,</text>
<text x="524.00" y="217.00" font-size="4.0" text-anchor="start" fill="#444" font-style="italic" textLength="150.20" lengthAdjust="spacingAndGlyphs">MGP, ADAM23, SCG2, CHAC1, SDK2, SERPINF1, SCN3B, HMCN2, PCSK4 [...]</text>
<text x="433.30" y="229.66" font-size="6.7" text-anchor="end" fill="#111" stroke="#111" stroke-width="0.22" font-weight="bold" textLength="146.20" lengthAdjust="spacingAndGlyphs">anatomical structure development (GO:0048856)</text>
<line x1="435.20" y1="227.36" x2="438.30" y2="227.36" stroke="#111" stroke-width="1.0"/>
<rect x="438.30" y="220.70" width="3.80" height="13.63" fill="#000"/>
<text x="513.50" y="230.46" font-size="8.5" text-anchor="middle" fill="#111" stroke="#111" stroke-width="0.22" font-weight="bold">42</text>
<text x="524.00" y="223.76" font-size="4.0" text-anchor="start" fill="#444" font-style="italic" textLength="169.70" lengthAdjust="spacingAndGlyphs">DCC, ADAMTS2, VIM, GREM1, S100A4, BRINP2, ADAM23, EDNRA, TLE6, ASTN2, KCNB1,</text>
<text x="524.00" y="228.46" font-size="4.0" text-anchor="start" fill="#444" font-style="italic" textLength="169.00" lengthAdjust="spacingAndGlyphs">STC2, PTPN14, DHRS2, KRT18, NDN, AC010336, ANXA2, MYOZ1, SSTR2, TLE3, COL3A1,</text>
<text x="524.00" y="233.06" font-size="4.0" text-anchor="start" fill="#444" font-style="italic" textLength="147.00" lengthAdjust="spacingAndGlyphs">MGP, SCG2, CHAC1, SDK2, SERPINF1,SCN3B, HMCN2, PCSK4, CXCR4 [...]</text>
<text x="433.30" y="245.79" font-size="6.7" text-anchor="end" fill="#111" stroke="#111" stroke-width="0.22" font-weight="bold" textLength="151.20" lengthAdjust="spacingAndGlyphs">multicellular organism development (GO:0007275)</text>
<line x1="435.20" y1="243.49" x2="438.30" y2="243.49" stroke="#111" stroke-width="1.0"/>
<rect x="438.30" y="236.83" width="4.10" height="13.63" fill="#000"/>
<text x="513.50" y="246.59" font-size="8.5" text-anchor="middle" fill="#111" stroke="#111" stroke-width="0.22" font-weight="bold">33</text>
<text x="524.00" y="239.89" font-size="4.0" text-anchor="start" fill="#444" font-style="italic" textLength="168.80" lengthAdjust="spacingAndGlyphs">DCC, ADAMTS2, VIM, GREM1, BRINP2, ADAM23, EDNRA, TLE6, ASTN2, KCNB1, STC2,</text>
<text x="524.00" y="244.59" font-size="4.0" text-anchor="start" fill="#444" font-style="italic" textLength="168.80" lengthAdjust="spacingAndGlyphs">PTPN14, NDN, ANXA2, SSTR2, COL3A1, MGP, SCG2, CHAC1, SDK2, SERPINF1, SCN3B,</text>
<text x="524.00" y="249.19" font-size="4.0" text-anchor="start" fill="#444" font-style="italic" textLength="157.40" lengthAdjust="spacingAndGlyphs">HMCN2, CXCR4, SKIL, OVOL1, ADM, PDPDC2, IGFBP7, BCL2, HOXC6, ASS1, CLU</text>
<text x="433.30" y="261.93" font-size="6.7" text-anchor="end" fill="#111" stroke="#111" stroke-width="0.22" font-weight="bold" textLength="159.50" lengthAdjust="spacingAndGlyphs">cellular response to chemical stimulus (GO:0070887)</text>
<line x1="435.20" y1="259.62" x2="438.30" y2="259.62" stroke="#111" stroke-width="1.0"/>
<rect x="438.30" y="252.96" width="4.90" height="13.63" fill="#000"/>
<text x="513.50" y="262.73" font-size="8.5" text-anchor="middle" fill="#111" stroke="#111" stroke-width="0.22" font-weight="bold">21</text>
<text x="524.00" y="258.52" font-size="4.0" text-anchor="start" fill="#444" font-style="italic" textLength="166.20" lengthAdjust="spacingAndGlyphs">VIM, BRINP3, EDNRA, DDI2, KCNB1, STC2, DOCK4, DHRS2, CHGA, SSTR2, WTIP,</text>
<text x="524.00" y="263.73" font-size="4.0" text-anchor="start" fill="#444" font-style="italic" textLength="160.60" lengthAdjust="spacingAndGlyphs">COL3A1, SCG2, RAMP3, SERPINF1, AC010336, CXCR4, MT1X, IGFBP7, BCL2, ASS1</text>
<text x="433.30" y="278.06" font-size="6.7" text-anchor="end" fill="#111" stroke="#111" stroke-width="0.22" font-weight="bold" textLength="112.20" lengthAdjust="spacingAndGlyphs">programmed cell death (GO:0012501)</text>
<line x1="435.20" y1="275.75" x2="438.30" y2="275.75" stroke="#111" stroke-width="1.0"/>
<rect x="438.30" y="269.09" width="6.80" height="13.63" fill="#000"/>
<text x="513.50" y="278.86" font-size="8.5" text-anchor="middle" fill="#111" stroke="#111" stroke-width="0.22" font-weight="bold">15</text>
<text x="524.00" y="274.65" font-size="4.0" text-anchor="start" fill="#444" font-style="italic" textLength="129.60" lengthAdjust="spacingAndGlyphs">DCC, EDNRA, KRT18, ANXA2, IFI6, EVA1A, MAGI3, CHAC1,</text>
<text x="524.00" y="279.86" font-size="4.0" text-anchor="start" fill="#444" font-style="italic" textLength="117.50" lengthAdjust="spacingAndGlyphs">IGFBP3, CXCR4, SKIL, PHLDA1, BCL2, ZNF385B, CLU</text>
<text x="433.30" y="294.19" font-size="6.7" text-anchor="end" fill="#111" stroke="#111" stroke-width="0.22" font-weight="bold" textLength="97.20" lengthAdjust="spacingAndGlyphs">apoptotic process (GO:0006915)</text>
<line x1="435.20" y1="291.88" x2="438.30" y2="291.88" stroke="#111" stroke-width="1.0"/>
<rect x="438.30" y="285.22" width="6.80" height="13.63" fill="#000"/>
<text x="513.50" y="294.99" font-size="8.5" text-anchor="middle" fill="#111" stroke="#111" stroke-width="0.22" font-weight="bold">15</text>
<text x="524.00" y="290.78" font-size="4.0" text-anchor="start" fill="#444" font-style="italic" textLength="129.70" lengthAdjust="spacingAndGlyphs">DCC, EDNRA, KRT18, ANXA2, IFI6, EVA1A, MAGI3, CHAC1,</text>
<text x="524.00" y="295.99" font-size="4.0" text-anchor="start" fill="#444" font-style="italic" textLength="117.50" lengthAdjust="spacingAndGlyphs">IGFBP3, CXCR4, SKIL, PHLDA1, BCL2, ZNF385B, CLU</text>
<text x="433.30" y="310.31" font-size="6.7" text-anchor="end" fill="#111" stroke="#111" stroke-width="0.22" font-weight="bold" textLength="194.60" lengthAdjust="spacingAndGlyphs">negative regulation of cell population proliferation (GO:0008285)</text>
<line x1="435.20" y1="308.01" x2="438.30" y2="308.01" stroke="#111" stroke-width="1.0"/>
<rect x="438.30" y="301.35" width="8.40" height="13.63" fill="#000"/>
<text x="513.50" y="311.12" font-size="8.5" text-anchor="middle" fill="#111" stroke="#111" stroke-width="0.22" font-weight="bold">12</text>
<text x="524.00" y="306.91" font-size="4.0" text-anchor="start" fill="#444" font-style="italic" textLength="133.60" lengthAdjust="spacingAndGlyphs">GREM1, PTPN14, DHRS2, SSTR2, SCG2, SERPINF1, IGFBP3,</text>
<text x="524.00" y="312.12" font-size="4.0" text-anchor="start" fill="#444" font-style="italic" textLength="83.70" lengthAdjust="spacingAndGlyphs">OVOL1, ADM, IGFBP7, BCL2, S100A11</text>
<text x="433.30" y="326.44" font-size="6.7" text-anchor="end" fill="#111" stroke="#111" stroke-width="0.22" font-weight="bold" textLength="104.10" lengthAdjust="spacingAndGlyphs">regulation of growth (GO:0040008)</text>
<line x1="435.20" y1="324.14" x2="438.30" y2="324.14" stroke="#111" stroke-width="1.0"/>
<rect x="438.30" y="317.48" width="8.90" height="13.63" fill="#000"/>
<text x="513.50" y="327.25" font-size="8.5" text-anchor="middle" fill="#111" stroke="#111" stroke-width="0.22" font-weight="bold">11</text>
<text x="524.00" y="323.04" font-size="4.0" text-anchor="start" fill="#444" font-style="italic" textLength="92.40" lengthAdjust="spacingAndGlyphs">DCC, GREM1, STC2, MYOZ1, MT1F, BST2,</text>
<text x="524.00" y="328.25" font-size="4.0" text-anchor="start" fill="#444" font-style="italic" textLength="83.70" lengthAdjust="spacingAndGlyphs">IGFBP3, CXCR4, MT1X, IGFBP7, BCL2</text>
<text x="433.30" y="342.57" font-size="6.7" text-anchor="end" fill="#111" stroke="#111" stroke-width="0.22" font-weight="bold" textLength="131.40" lengthAdjust="spacingAndGlyphs">negative regulation of growth (GO:0045926)</text>
<line x1="435.20" y1="340.27" x2="438.30" y2="340.27" stroke="#111" stroke-width="1.0"/>
<rect x="438.30" y="333.61" width="16.70" height="13.63" fill="#000"/>
<text x="513.50" y="343.38" font-size="8.5" text-anchor="middle" fill="#111" stroke="#111" stroke-width="0.22" font-weight="bold">8</text>
<text x="524.00" y="339.17" font-size="4.0" text-anchor="start" fill="#444" font-style="italic" textLength="78.90" lengthAdjust="spacingAndGlyphs">DCC, GREM1, STC2, MYOZ1, MT1F,</text>
<text x="524.00" y="344.38" font-size="4.0" text-anchor="start" fill="#444" font-style="italic" textLength="41.90" lengthAdjust="spacingAndGlyphs">BST2, MT1X, BCL2</text>
<text x="433.30" y="358.70" font-size="6.7" text-anchor="end" fill="#111" stroke="#111" stroke-width="0.22" font-weight="bold" textLength="196.30" lengthAdjust="spacingAndGlyphs">GPCR signaling pathway involved in heart process (GO:0086103)</text>
<line x1="435.20" y1="356.40" x2="438.30" y2="356.40" stroke="#111" stroke-width="1.0"/>
<rect x="438.30" y="349.74" width="46.20" height="13.63" fill="#000"/>
<rect x="490.7" y="349.74" width="5.3" height="13.63" fill="#000"/>
<text x="513.50" y="359.50" font-size="8.5" text-anchor="middle" fill="#111" stroke="#111" stroke-width="0.22" font-weight="bold">3</text>
<text x="524.00" y="358.20" font-size="4.0" text-anchor="start" fill="#444" font-style="italic" textLength="52.20" lengthAdjust="spacingAndGlyphs">EDNRA, CHGA, RAMP3</text>
<line x1="438.30" y1="219.10" x2="504.40" y2="219.10" stroke="#6a6a6a" stroke-width="1.5"/>
<line x1="504.40" y1="219.10" x2="697.00" y2="219.10" stroke="#444" stroke-width="1.4"/>
<line x1="438.30" y1="235.23" x2="504.40" y2="235.23" stroke="#6a6a6a" stroke-width="1.5"/>
<line x1="504.40" y1="235.23" x2="697.00" y2="235.23" stroke="#444" stroke-width="1.4"/>
<line x1="438.30" y1="251.36" x2="504.40" y2="251.36" stroke="#6a6a6a" stroke-width="1.5"/>
<line x1="504.40" y1="251.36" x2="697.00" y2="251.36" stroke="#444" stroke-width="1.4"/>
<line x1="438.30" y1="267.49" x2="504.40" y2="267.49" stroke="#6a6a6a" stroke-width="1.5"/>
<line x1="504.40" y1="267.49" x2="697.00" y2="267.49" stroke="#444" stroke-width="1.4"/>
<line x1="438.30" y1="283.62" x2="504.40" y2="283.62" stroke="#6a6a6a" stroke-width="1.5"/>
<line x1="504.40" y1="283.62" x2="697.00" y2="283.62" stroke="#444" stroke-width="1.4"/>
<line x1="438.30" y1="299.75" x2="504.40" y2="299.75" stroke="#6a6a6a" stroke-width="1.5"/>
<line x1="504.40" y1="299.75" x2="697.00" y2="299.75" stroke="#444" stroke-width="1.4"/>
<line x1="438.30" y1="315.88" x2="504.40" y2="315.88" stroke="#6a6a6a" stroke-width="1.5"/>
<line x1="504.40" y1="315.88" x2="697.00" y2="315.88" stroke="#444" stroke-width="1.4"/>
<line x1="438.30" y1="332.01" x2="504.40" y2="332.01" stroke="#6a6a6a" stroke-width="1.5"/>
<line x1="504.40" y1="332.01" x2="697.00" y2="332.01" stroke="#444" stroke-width="1.4"/>
<line x1="438.30" y1="348.14" x2="504.40" y2="348.14" stroke="#6a6a6a" stroke-width="1.5"/>
<line x1="504.40" y1="348.14" x2="697.00" y2="348.14" stroke="#444" stroke-width="1.4"/>
<line x1="504.40" y1="364.27" x2="697.00" y2="364.27" stroke="#444" stroke-width="1.4"/>
<line x1="504.40" y1="379.20" x2="697.00" y2="379.20" stroke="#444" stroke-width="1.4"/>
<line x1="438.30" y1="202.50" x2="438.30" y2="364.00" stroke="#111" stroke-width="1.1"/>
<line x1="437.80" y1="363.60" x2="485.00" y2="363.60" stroke="#111" stroke-width="1.1"/>
<line x1="490.20" y1="363.60" x2="500.50" y2="363.60" stroke="#111" stroke-width="1.1"/>
<line x1="438.30" y1="363.60" x2="438.30" y2="367.00" stroke="#111" stroke-width="1.0"/>
<text x="438.30" y="376.70" font-size="7.8" text-anchor="middle" fill="#111" stroke="#111" stroke-width="0.22" font-weight="bold">0</text>
<line x1="447.70" y1="363.60" x2="447.70" y2="367.00" stroke="#111" stroke-width="1.0"/>
<text x="447.70" y="376.70" font-size="7.8" text-anchor="middle" fill="#111" stroke="#111" stroke-width="0.22" font-weight="bold">5</text>
<line x1="457.50" y1="363.60" x2="457.50" y2="367.00" stroke="#111" stroke-width="1.0"/>
<text x="457.50" y="376.70" font-size="7.8" text-anchor="middle" fill="#111" stroke="#111" stroke-width="0.22" font-weight="bold">10</text>
<line x1="466.60" y1="363.60" x2="466.60" y2="367.00" stroke="#111" stroke-width="1.0"/>
<text x="466.60" y="376.70" font-size="7.8" text-anchor="middle" fill="#111" stroke="#111" stroke-width="0.22" font-weight="bold">15</text>
<line x1="476.00" y1="363.60" x2="476.00" y2="367.00" stroke="#111" stroke-width="1.0"/>
<text x="476.00" y="376.70" font-size="7.8" text-anchor="middle" fill="#111" stroke="#111" stroke-width="0.22" font-weight="bold">20</text>
<line x1="485.50" y1="363.60" x2="485.50" y2="367.00" stroke="#111" stroke-width="1.0"/>
<text x="485.50" y="376.70" font-size="7.8" text-anchor="middle" fill="#111" stroke="#111" stroke-width="0.22" font-weight="bold">25</text>
<line x1="496.10" y1="363.60" x2="496.10" y2="367.00" stroke="#111" stroke-width="1.0"/>
<text x="496.10" y="376.70" font-size="7.8" text-anchor="middle" fill="#111" stroke="#111" stroke-width="0.22" font-weight="bold">100</text>
<text x="436.00" y="388.90" font-size="6.5" text-anchor="start" fill="#111" stroke="#111" stroke-width="0.22" font-weight="bold" textLength="63.20" lengthAdjust="spacingAndGlyphs">Fold Enrichment (%)</text>
<line x1="504.40" y1="201.60" x2="504.40" y2="390.00" stroke="#111" stroke-width="1.5"/>
<line x1="521.80" y1="202.30" x2="521.80" y2="390.00" stroke="#111" stroke-width="1.5"/>
<text x="513.80" y="385.80" font-size="4.6" text-anchor="middle" fill="#111" stroke="#111" stroke-width="0.22" font-weight="bold" textLength="12.50" lengthAdjust="spacingAndGlyphs">DEG</text>
<text x="514.20" y="389.60" font-size="4.6" text-anchor="middle" fill="#111" stroke="#111" stroke-width="0.22" font-weight="bold">#</text>
<text x="578.90" y="387.70" font-size="6.3" text-anchor="start" fill="#111" stroke="#111" stroke-width="0.22" font-weight="bold" textLength="40.90" lengthAdjust="spacingAndGlyphs">Gene  Names</text>
</svg>
</body></html>
